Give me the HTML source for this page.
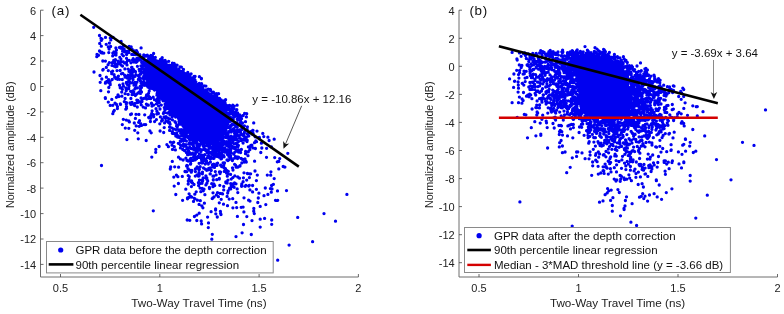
<!DOCTYPE html><html><head><meta charset="utf-8"><style>html,body{margin:0;padding:0;background:#fff;}svg{display:block;will-change:transform;}text{font-family:"Liberation Sans", sans-serif;fill:#222;}.tl{font-size:11px;}.xl{font-size:11.7px;}.yl{font-size:10.7px;}.lg{font-size:11.5px;fill:#111;}.eq{font-size:11.5px;fill:#111;}.pl{font-size:13.4px;letter-spacing:0.7px;fill:#111;}</style></head><body>
<svg width="784" height="314" viewBox="0 0 784 314">
<rect width="784" height="314" fill="#fff"/>
<path d="M40.5 10.2V277.0H358.4" fill="none" stroke="#6e6e6e" stroke-width="1"/>
<path d="M40.5 10.2h3M40.5 35.6h3M40.5 61.0h3M40.5 86.5h3M40.5 111.9h3M40.5 137.3h3M40.5 162.7h3M40.5 188.1h3M40.5 213.6h3M40.5 239.0h3M40.5 264.4h3M60.5 277.0v-3M159.8 277.0v-3M259.1 277.0v-3M358.4 277.0v-3" fill="none" stroke="#444" stroke-width="0.8"/>
<text x="36.2" y="14.6" text-anchor="end" class="tl">6</text>
<text x="36.2" y="40.0" text-anchor="end" class="tl">4</text>
<text x="36.2" y="65.4" text-anchor="end" class="tl">2</text>
<text x="36.2" y="90.9" text-anchor="end" class="tl">0</text>
<text x="36.2" y="116.3" text-anchor="end" class="tl">-2</text>
<text x="36.2" y="141.7" text-anchor="end" class="tl">-4</text>
<text x="36.2" y="167.1" text-anchor="end" class="tl">-6</text>
<text x="36.2" y="192.5" text-anchor="end" class="tl">-8</text>
<text x="36.2" y="218.0" text-anchor="end" class="tl">-10</text>
<text x="36.2" y="243.4" text-anchor="end" class="tl">-12</text>
<text x="36.2" y="268.8" text-anchor="end" class="tl">-14</text>
<text x="60.5" y="292" text-anchor="middle" class="tl">0.5</text>
<text x="159.8" y="292" text-anchor="middle" class="tl">1</text>
<text x="259.1" y="292" text-anchor="middle" class="tl">1.5</text>
<text x="358.4" y="292" text-anchor="middle" class="tl">2</text>
<text x="198.9" y="306.9" text-anchor="middle" class="xl">Two-Way Travel Time (ns)</text>
<text transform="translate(13.8 144.8) rotate(-90)" text-anchor="middle" class="yl">Normalized amplitude (dB)</text>
<path d="M145.0 59.0L146.0 59.0L147.0 59.0L148.0 59.5L149.0 59.5L150.0 59.5L151.0 59.5L152.0 59.5L153.0 59.5L154.0 60.0L155.0 60.0L156.0 60.5L157.0 60.5L158.0 61.0L159.0 61.5L160.0 62.0L161.0 62.0L162.0 62.5L163.0 63.0L164.0 63.5L165.0 63.5L166.0 64.0L167.0 64.5L168.0 65.0L169.0 65.5L170.0 65.5L171.0 66.0L172.0 66.5L173.0 67.0L174.0 67.0L175.0 67.5L176.0 68.0L177.0 68.5L178.0 68.5L179.0 69.5L180.0 70.0L181.0 71.0L182.0 71.5L183.0 72.0L184.0 73.0L185.0 73.5L186.0 74.0L187.0 75.0L188.0 75.5L189.0 76.0L190.0 77.0L191.0 78.0L192.0 78.5L193.0 79.5L194.0 80.5L195.0 81.5L196.0 82.5L197.0 83.5L198.0 84.0L199.0 85.0L200.0 86.0L201.0 87.0L202.0 88.0L203.0 89.0L204.0 90.0L205.0 90.5L206.0 91.5L207.0 92.0L208.0 92.5L209.0 93.0L210.0 94.0L211.0 94.5L212.0 95.0L213.0 95.5L214.0 96.0L215.0 97.0L216.0 97.5L217.0 98.0L218.0 98.5L219.0 99.0L220.0 100.0L221.0 100.5L222.0 101.5L223.0 102.0L224.0 103.0L225.0 103.5L226.0 104.5L227.0 105.5L228.0 106.0L229.0 107.0L229.0 106.0L228.0 109.5L227.0 113.5L226.0 118.5L225.0 124.0L224.0 130.5L223.0 138.0L222.0 139.0L221.0 140.0L220.0 141.0L219.0 141.5L218.0 141.5L217.0 141.5L216.0 142.0L215.0 142.0L214.0 142.5L213.0 142.5L212.0 142.5L211.0 143.0L210.0 143.0L209.0 143.0L208.0 143.5L207.0 143.5L206.0 144.0L205.0 144.0L204.0 143.5L203.0 143.0L202.0 143.0L201.0 142.5L200.0 142.0L199.0 141.5L198.0 141.0L197.0 140.5L196.0 140.0L195.0 139.5L194.0 139.0L193.0 139.0L192.0 138.5L191.0 138.0L190.0 137.5L189.0 135.0L188.0 133.0L187.0 131.5L186.0 130.0L185.0 128.0L184.0 126.5L183.0 125.5L182.0 124.0L181.0 122.5L180.0 121.0L179.0 120.0L178.0 118.5L177.0 117.0L176.0 116.0L175.0 114.5L174.0 113.5L173.0 112.0L172.0 110.5L171.0 109.5L170.0 108.0L169.0 107.0L168.0 105.5L167.0 104.5L166.0 103.0L165.0 101.5L164.0 100.5L163.0 99.5L162.0 98.0L161.0 97.0L160.0 95.5L159.0 94.5L158.0 93.0L157.0 92.0L156.0 91.0L155.0 89.5L154.0 88.5L153.0 87.5L152.0 86.5L151.0 85.5L150.0 84.5L149.0 83.5L148.0 82.5L147.0 81.0L146.0 80.0L145.0 79.0Z" fill="#0000f0"/>
<path d="M97.0 54.3h0M96.8 56.7h0M98.5 55.3h0M99.7 43.4h0M99.5 51.0h0M100.2 82.3h0M101.0 38.4h0M101.3 40.4h0M101.3 46.2h0M101.0 52.7h0M100.8 90.7h0M102.0 39.1h0M101.7 52.1h0M102.2 53.1h0M101.8 79.0h0M102.8 61.0h0M103.2 69.4h0M102.8 70.0h0M103.8 53.1h0M105.4 61.1h0M105.4 83.2h0M105.3 97.6h0M105.5 37.4h0M106.2 44.3h0M106.3 67.4h0M106.4 77.2h0M105.7 82.1h0M106.9 81.3h0M108.3 46.9h0M108.1 64.7h0M108.3 70.6h0M108.3 80.9h0M108.3 82.3h0M108.3 102.1h0M109.4 43.1h0M109.1 49.1h0M108.8 52.6h0M109.3 62.6h0M108.7 79.6h0M108.8 87.5h0M108.5 91.8h0M110.3 38.1h0M110.1 81.6h0M110.1 83.7h0M110.2 84.7h0M110.2 105.4h0M110.8 39.9h0M110.6 46.5h0M112.2 62.7h0M112.0 65.4h0M111.5 71.8h0M111.7 73.7h0M112.2 79.5h0M113.1 37.4h0M112.8 53.1h0M112.7 55.9h0M112.7 71.2h0M113.5 111.6h0M112.8 113.7h0M113.9 51.9h0M114.3 52.7h0M113.7 60.3h0M114.0 66.0h0M114.1 74.7h0M115.3 54.6h0M115.4 59.7h0M114.7 62.5h0M114.6 77.0h0M115.0 103.2h0M115.9 48.0h0M116.1 53.0h0M116.0 55.0h0M115.6 64.2h0M115.7 66.8h0M115.8 78.5h0M116.0 78.0h0M116.4 97.3h0M116.5 104.4h0M116.5 50.1h0M117.5 64.3h0M116.9 66.4h0M117.0 70.6h0M117.4 79.3h0M117.2 78.9h0M118.1 61.2h0M118.3 62.8h0M118.4 76.1h0M117.7 77.5h0M118.0 95.0h0M117.5 106.6h0M119.4 63.5h0M119.5 85.2h0M118.9 96.5h0M119.5 47.5h0M119.8 57.3h0M119.7 61.9h0M120.2 70.5h0M119.6 79.3h0M120.2 87.8h0M120.3 103.8h0M121.1 41.5h0M120.7 47.1h0M121.2 48.3h0M120.9 59.1h0M121.4 61.6h0M121.1 65.0h0M121.4 73.8h0M121.2 87.9h0M120.5 104.4h0M122.0 54.3h0M122.5 66.1h0M122.3 79.5h0M122.4 89.3h0M121.7 92.1h0M121.9 96.2h0M122.3 124.6h0M123.4 46.1h0M123.3 49.2h0M122.6 51.2h0M123.4 55.8h0M123.3 61.8h0M122.7 73.3h0M123.0 83.9h0M123.4 86.2h0M124.2 49.2h0M124.5 51.8h0M124.5 63.0h0M124.3 101.6h0M124.9 68.9h0M124.6 75.2h0M125.1 77.2h0M125.1 93.7h0M125.1 98.5h0M125.3 128.1h0M125.6 51.4h0M126.5 51.4h0M126.4 82.5h0M126.1 87.9h0M126.0 88.5h0M126.2 90.7h0M126.3 103.9h0M126.5 106.7h0M125.8 109.2h0M126.3 120.1h0M126.7 52.8h0M126.6 54.5h0M126.5 58.3h0M127.5 60.2h0M126.5 62.5h0M127.0 64.9h0M126.6 76.4h0M126.9 77.5h0M127.3 78.1h0M126.7 83.6h0M127.4 84.6h0M126.5 102.7h0M126.5 108.3h0M126.9 139.6h0M127.8 52.2h0M128.2 69.1h0M128.0 75.2h0M128.1 75.6h0M128.0 76.9h0M128.2 94.4h0M129.1 46.4h0M128.5 50.8h0M128.9 52.6h0M129.3 60.5h0M129.0 71.4h0M128.7 81.0h0M129.4 81.3h0M129.1 81.8h0M128.9 85.2h0M129.0 86.3h0M128.7 88.7h0M128.8 121.0h0M128.8 128.3h0M129.7 71.4h0M130.4 72.6h0M129.7 77.8h0M129.8 78.6h0M130.0 102.9h0M130.9 47.2h0M131.2 46.9h0M130.9 48.9h0M131.0 62.8h0M131.1 70.5h0M130.6 70.6h0M131.1 74.0h0M130.6 75.4h0M130.7 82.9h0M130.6 91.3h0M131.5 91.8h0M130.9 98.5h0M131.0 104.4h0M130.6 114.5h0M132.2 49.3h0M131.8 54.4h0M132.5 60.1h0M131.6 67.5h0M132.0 67.3h0M132.4 72.5h0M131.9 74.5h0M132.3 82.7h0M132.1 94.7h0M132.0 102.4h0M131.5 102.6h0M131.5 114.0h0M133.2 58.7h0M132.7 75.3h0M132.7 77.9h0M132.9 77.8h0M133.0 79.6h0M132.8 91.0h0M132.7 94.0h0M133.8 54.6h0M133.6 60.8h0M134.0 62.0h0M133.6 69.6h0M133.9 70.9h0M133.6 77.1h0M134.0 85.2h0M133.8 92.1h0M133.5 94.3h0M133.9 104.5h0M134.3 123.0h0M134.6 50.8h0M135.5 71.7h0M135.1 76.3h0M134.9 82.3h0M135.2 88.4h0M134.9 88.9h0M135.4 95.5h0M135.1 103.4h0M134.6 105.6h0M135.4 118.4h0M135.7 54.6h0M135.9 59.7h0M136.1 62.3h0M136.1 75.0h0M135.9 74.6h0M135.7 84.1h0M135.9 84.8h0M136.0 87.8h0M135.8 94.7h0M136.0 114.3h0M136.2 125.9h0M136.5 50.7h0M136.6 50.8h0M137.5 52.3h0M136.8 54.0h0M136.9 58.3h0M137.0 59.9h0M136.6 61.0h0M136.9 61.8h0M137.4 66.3h0M136.9 82.3h0M137.4 87.9h0M136.7 94.1h0M136.8 100.1h0M137.5 101.3h0M137.3 107.0h0M137.6 58.1h0M137.6 59.4h0M138.5 76.1h0M138.4 79.5h0M138.0 93.0h0M137.9 100.3h0M137.7 102.5h0M137.8 132.8h0M138.3 138.8h0M139.0 60.1h0M139.1 69.3h0M138.9 75.4h0M138.9 76.3h0M138.6 79.2h0M139.4 92.0h0M138.9 114.4h0M138.6 122.3h0M139.2 126.3h0M139.8 54.7h0M140.2 58.4h0M139.7 71.2h0M140.0 74.4h0M139.6 77.7h0M140.0 79.0h0M140.5 81.0h0M140.0 80.6h0M140.2 86.3h0M140.5 93.4h0M140.0 102.0h0M139.5 120.7h0M141.1 47.9h0M141.5 59.1h0M140.8 59.8h0M140.9 65.8h0M141.5 66.3h0M140.8 70.4h0M141.3 72.2h0M140.7 74.1h0M141.1 83.2h0M141.2 85.5h0M141.3 85.6h0M141.4 87.7h0M140.5 88.9h0M140.6 90.9h0M141.1 92.4h0M141.1 97.9h0M141.1 97.9h0M140.9 102.3h0M141.2 104.8h0M140.7 123.7h0M142.1 57.3h0M141.7 62.5h0M142.3 67.1h0M141.7 68.4h0M141.6 72.3h0M142.1 83.5h0M141.5 87.4h0M141.5 91.9h0M142.0 99.8h0M142.0 101.6h0M141.5 125.4h0M143.5 56.5h0M142.8 62.3h0M143.2 64.1h0M142.7 63.7h0M143.2 65.8h0M143.1 68.6h0M142.8 78.2h0M142.9 77.7h0M143.5 81.8h0M143.2 107.1h0M143.8 54.8h0M144.3 56.6h0M144.0 60.9h0M144.0 60.7h0M144.0 61.1h0M144.4 60.9h0M143.5 63.4h0M144.1 63.1h0M144.4 65.4h0M143.8 71.4h0M144.0 73.4h0M144.1 73.7h0M143.8 76.2h0M143.7 79.3h0M144.1 81.8h0M144.2 84.7h0M144.1 85.3h0M143.9 98.4h0M144.1 124.6h0M144.9 56.0h0M145.3 62.0h0M145.2 65.9h0M145.4 69.3h0M144.9 76.0h0M145.3 78.0h0M145.0 85.1h0M144.7 114.8h0M145.8 55.6h0M146.3 56.1h0M145.7 64.1h0M146.2 65.1h0M145.7 67.5h0M145.6 68.1h0M145.8 68.5h0M146.4 70.8h0M146.1 75.7h0M146.4 83.3h0M146.1 96.7h0M146.4 104.2h0M145.5 107.9h0M145.7 124.6h0M147.3 55.2h0M147.5 63.2h0M147.1 63.1h0M147.1 69.2h0M147.1 69.9h0M147.5 70.6h0M147.2 76.3h0M147.2 79.4h0M146.8 79.4h0M146.6 85.4h0M146.6 94.9h0M146.7 99.1h0M147.3 105.0h0M147.6 64.5h0M148.5 67.0h0M147.6 67.9h0M147.9 69.9h0M147.9 80.3h0M148.5 80.4h0M147.6 81.4h0M147.5 83.2h0M147.9 82.8h0M147.8 83.2h0M147.8 84.9h0M148.5 86.3h0M147.9 87.1h0M148.5 93.4h0M148.3 105.2h0M148.7 56.3h0M149.3 58.0h0M149.0 58.9h0M148.6 58.6h0M148.6 60.6h0M148.6 61.5h0M149.1 64.5h0M148.7 64.2h0M148.7 68.2h0M148.6 68.5h0M149.2 70.0h0M148.5 70.2h0M148.9 71.1h0M148.5 72.0h0M148.8 81.4h0M149.2 82.6h0M149.2 91.1h0M148.8 96.5h0M149.1 98.4h0M148.7 117.4h0M149.3 117.9h0M149.9 56.7h0M149.9 60.4h0M150.0 61.1h0M149.9 65.9h0M150.2 66.3h0M150.0 66.2h0M149.6 67.2h0M150.4 67.7h0M150.3 70.6h0M150.3 73.9h0M149.6 73.8h0M149.8 80.1h0M150.1 79.9h0M150.2 80.9h0M150.1 80.9h0M149.8 80.9h0M149.6 82.0h0M149.6 84.0h0M150.2 86.6h0M150.4 87.6h0M149.7 88.1h0M149.7 88.6h0M149.7 97.2h0M150.4 121.5h0M149.9 130.9h0M150.9 55.4h0M150.8 56.4h0M151.2 61.1h0M151.2 64.0h0M150.5 64.0h0M150.7 65.0h0M151.1 67.3h0M151.2 68.2h0M151.0 67.8h0M150.7 68.7h0M151.4 69.7h0M150.6 74.3h0M151.3 73.8h0M151.1 85.1h0M151.0 84.9h0M151.1 84.6h0M151.4 86.0h0M151.3 87.2h0M150.8 98.5h0M151.4 103.4h0M151.5 103.2h0M150.8 115.6h0M150.7 118.2h0M151.2 132.8h0M152.4 56.1h0M151.7 58.4h0M152.4 63.9h0M152.5 64.9h0M151.7 64.6h0M151.8 67.7h0M152.4 68.1h0M152.1 68.3h0M152.1 69.6h0M151.5 72.3h0M151.5 73.5h0M152.4 73.7h0M151.7 75.1h0M152.1 78.4h0M152.4 81.2h0M151.9 85.9h0M152.2 86.6h0M152.5 87.2h0M152.3 88.5h0M152.0 106.1h0M152.1 110.8h0M151.7 113.4h0M152.5 63.7h0M152.9 64.5h0M153.2 65.2h0M152.5 68.2h0M153.0 68.3h0M153.0 68.0h0M153.2 67.6h0M153.4 68.9h0M153.1 73.2h0M152.6 74.3h0M152.7 77.2h0M152.8 77.2h0M152.6 78.1h0M153.0 79.4h0M152.6 81.0h0M152.9 82.8h0M153.0 86.6h0M153.2 97.2h0M153.6 53.5h0M153.6 57.9h0M154.5 59.6h0M153.7 60.7h0M154.1 60.5h0M153.8 61.4h0M154.2 64.3h0M153.8 66.3h0M153.7 71.3h0M154.2 72.2h0M154.5 72.1h0M153.9 73.4h0M154.0 73.5h0M154.2 77.3h0M153.7 81.2h0M154.5 88.5h0M154.4 89.8h0M154.5 99.7h0M153.7 105.1h0M153.5 114.7h0M153.7 116.8h0M155.3 57.4h0M154.7 57.6h0M155.0 59.4h0M155.5 60.5h0M154.9 61.3h0M155.2 66.7h0M155.4 70.3h0M155.2 75.5h0M154.7 80.6h0M154.8 86.2h0M155.0 88.9h0M154.5 90.1h0M154.6 121.6h0M155.9 62.5h0M156.2 62.7h0M155.8 65.2h0M155.8 67.2h0M156.1 67.9h0M155.9 67.9h0M155.6 67.6h0M155.9 70.1h0M155.8 72.1h0M155.9 72.4h0M155.7 73.7h0M156.0 76.1h0M155.7 76.8h0M156.2 77.9h0M155.9 78.9h0M155.5 84.3h0M155.7 85.1h0M156.2 84.7h0M155.5 86.3h0M156.2 86.6h0M155.8 89.3h0M156.3 88.6h0M156.4 100.7h0M156.5 103.8h0M156.0 108.7h0M156.4 119.6h0M155.8 149.4h0M155.7 152.3h0M157.1 61.3h0M156.7 63.8h0M157.4 64.2h0M156.7 68.5h0M157.2 71.4h0M157.3 71.1h0M157.2 72.3h0M156.6 72.9h0M157.3 73.9h0M156.8 73.7h0M157.4 74.5h0M157.3 80.3h0M157.2 81.4h0M156.6 82.3h0M157.3 83.1h0M156.5 88.3h0M157.4 87.7h0M157.1 89.7h0M157.1 93.4h0M156.9 95.2h0M157.5 98.8h0M157.5 99.9h0M156.9 111.2h0M156.8 114.1h0M157.9 61.1h0M158.4 63.3h0M158.4 65.6h0M157.7 66.9h0M158.3 67.4h0M157.9 68.6h0M157.7 69.5h0M158.1 72.5h0M157.7 73.0h0M158.3 74.5h0M157.7 79.0h0M158.3 82.0h0M157.9 83.9h0M157.6 85.4h0M158.2 84.9h0M158.3 86.9h0M158.1 90.3h0M157.6 89.7h0M157.5 91.5h0M158.4 92.0h0M157.6 93.7h0M157.8 98.2h0M157.9 101.3h0M158.4 113.5h0M158.7 61.6h0M158.6 61.9h0M158.5 65.3h0M158.8 68.3h0M159.0 69.0h0M159.1 68.7h0M158.7 70.1h0M159.4 70.6h0M159.3 70.8h0M159.4 71.4h0M158.9 74.4h0M158.7 78.2h0M158.6 84.0h0M159.1 87.6h0M158.8 92.4h0M159.1 92.6h0M159.2 94.4h0M159.4 95.9h0M158.5 97.3h0M159.3 97.4h0M158.6 98.1h0M159.1 100.3h0M159.3 102.5h0M158.6 105.9h0M159.1 146.5h0M160.5 59.3h0M160.0 62.1h0M160.0 63.4h0M159.8 63.3h0M160.4 65.9h0M160.0 66.0h0M160.1 68.3h0M160.1 67.7h0M159.7 70.0h0M159.8 71.7h0M159.5 78.0h0M160.0 78.6h0M159.8 81.8h0M159.9 83.1h0M160.0 83.0h0M160.1 84.6h0M159.9 87.9h0M159.5 90.7h0M160.4 92.4h0M159.8 94.0h0M160.0 109.0h0M160.4 116.9h0M159.8 123.8h0M160.1 131.0h0M161.3 65.9h0M161.5 68.4h0M160.7 67.7h0M160.6 74.3h0M161.4 74.4h0M160.5 76.2h0M160.7 78.0h0M160.8 80.9h0M161.3 81.9h0M160.6 82.0h0M160.9 81.5h0M161.2 86.1h0M160.9 88.5h0M161.0 89.7h0M161.0 91.5h0M160.9 91.6h0M161.5 91.9h0M160.7 92.1h0M160.9 94.5h0M161.1 93.7h0M160.9 94.9h0M160.7 97.3h0M161.3 105.1h0M162.2 57.7h0M162.2 59.8h0M161.9 60.8h0M162.0 62.9h0M162.4 65.1h0M161.8 67.5h0M161.7 69.1h0M162.3 70.5h0M161.5 71.2h0M162.4 72.0h0M161.7 72.4h0M161.7 72.6h0M162.5 72.7h0M161.7 75.6h0M162.4 76.2h0M161.5 75.6h0M161.5 76.2h0M161.5 76.5h0M161.7 76.5h0M161.9 79.8h0M162.0 80.3h0M162.3 81.1h0M162.1 80.7h0M161.9 81.5h0M162.2 82.9h0M161.9 83.6h0M161.6 89.2h0M161.5 90.4h0M161.8 90.2h0M161.6 91.1h0M162.4 92.7h0M161.8 98.5h0M161.9 98.9h0M162.2 98.7h0M162.2 119.4h0M162.4 120.2h0M161.6 121.1h0M162.5 61.5h0M162.9 62.1h0M163.5 66.3h0M163.4 67.8h0M162.7 69.5h0M162.5 71.1h0M162.6 72.2h0M163.5 72.0h0M163.0 71.8h0M162.9 75.5h0M163.5 77.4h0M163.2 81.8h0M162.9 81.9h0M162.9 81.9h0M162.8 83.8h0M162.6 86.2h0M163.0 87.3h0M163.3 87.7h0M163.5 89.0h0M163.5 91.1h0M163.5 98.7h0M163.5 98.7h0M163.1 100.8h0M163.4 113.4h0M164.5 62.3h0M163.7 65.4h0M164.2 65.8h0M164.3 67.9h0M163.6 68.0h0M164.4 68.2h0M164.3 69.4h0M163.9 69.5h0M163.9 69.5h0M163.8 70.7h0M164.3 71.3h0M164.2 74.3h0M163.7 75.1h0M163.8 76.4h0M163.6 81.9h0M164.3 83.0h0M164.2 86.2h0M163.9 87.4h0M163.6 87.1h0M163.8 97.0h0M163.5 98.5h0M164.4 99.3h0M164.2 100.1h0M164.3 107.6h0M163.9 112.4h0M164.0 116.9h0M164.2 127.6h0M163.7 132.5h0M165.1 60.5h0M164.7 63.0h0M164.6 65.3h0M164.7 65.4h0M164.7 66.2h0M164.6 67.3h0M165.1 69.0h0M164.8 74.0h0M164.9 76.7h0M165.4 79.4h0M165.3 79.9h0M164.7 82.1h0M164.8 81.9h0M164.8 84.4h0M165.1 84.6h0M165.5 87.6h0M165.3 88.4h0M164.8 89.9h0M164.5 90.0h0M165.0 91.1h0M164.9 92.3h0M165.2 93.5h0M164.6 94.3h0M164.6 95.9h0M164.9 97.1h0M165.1 98.2h0M165.0 99.4h0M165.2 100.7h0M165.1 104.1h0M165.1 104.6h0M164.8 109.7h0M165.0 112.4h0M165.2 118.0h0M164.6 122.9h0M166.2 62.0h0M166.2 64.0h0M165.8 63.8h0M165.7 65.4h0M166.4 65.7h0M166.4 66.8h0M166.0 69.2h0M166.4 69.2h0M165.8 73.0h0M166.5 76.6h0M165.6 77.4h0M165.7 78.8h0M165.9 80.0h0M166.0 80.8h0M165.9 81.8h0M165.9 91.9h0M165.7 93.0h0M166.0 95.1h0M165.5 96.1h0M165.5 95.7h0M165.7 98.2h0M165.9 101.5h0M166.0 102.0h0M166.5 104.3h0M166.0 106.3h0M166.5 107.0h0M166.0 116.6h0M166.0 121.0h0M166.6 64.9h0M167.2 65.8h0M166.8 67.4h0M166.8 66.7h0M167.4 66.5h0M166.9 67.6h0M167.4 68.4h0M166.8 67.8h0M167.0 68.8h0M166.9 68.7h0M167.2 70.3h0M166.6 69.5h0M167.1 72.6h0M167.5 73.8h0M167.1 76.3h0M167.4 76.9h0M166.5 78.9h0M166.8 80.5h0M166.9 86.3h0M167.2 86.6h0M166.5 87.6h0M167.0 88.3h0M167.4 87.8h0M167.1 89.0h0M166.5 89.8h0M166.8 89.6h0M167.0 90.9h0M166.6 92.1h0M166.5 92.9h0M166.9 96.3h0M167.3 101.0h0M167.3 107.0h0M166.6 108.8h0M167.5 113.1h0M166.9 144.6h0M168.3 66.5h0M167.8 68.1h0M167.5 68.1h0M168.4 69.7h0M167.7 73.5h0M167.9 77.2h0M168.0 76.7h0M167.9 80.8h0M167.6 83.2h0M168.3 83.9h0M167.6 87.7h0M167.9 89.3h0M167.6 89.7h0M168.0 93.1h0M168.2 95.9h0M167.5 97.0h0M167.7 98.6h0M167.8 99.2h0M168.2 100.4h0M168.5 99.8h0M168.3 102.3h0M167.7 101.6h0M168.0 104.4h0M168.3 105.6h0M168.4 107.9h0M167.9 118.1h0M167.8 121.6h0M168.5 122.6h0M168.4 146.7h0M168.7 61.3h0M169.1 65.2h0M169.1 66.8h0M168.8 68.1h0M168.9 67.8h0M169.0 70.9h0M168.7 71.9h0M168.9 73.1h0M169.4 75.9h0M168.7 77.6h0M169.5 80.9h0M169.2 82.5h0M169.0 82.9h0M168.8 88.4h0M169.2 87.5h0M169.0 88.7h0M168.7 90.4h0M169.3 89.9h0M168.8 90.7h0M169.5 92.2h0M169.3 92.1h0M168.8 93.7h0M169.3 94.4h0M169.3 93.5h0M169.4 97.1h0M169.3 99.4h0M168.7 99.0h0M168.5 99.0h0M168.9 100.2h0M169.5 99.5h0M168.6 100.0h0M169.1 102.0h0M168.9 106.3h0M168.5 105.6h0M168.8 105.6h0M169.5 109.4h0M169.2 112.1h0M169.0 112.7h0M168.8 118.9h0M169.5 127.1h0M169.8 66.6h0M170.0 67.7h0M170.2 69.4h0M169.8 69.1h0M170.3 69.4h0M169.8 70.7h0M169.6 71.0h0M169.6 74.1h0M169.7 74.4h0M170.3 75.3h0M169.7 74.9h0M169.6 78.8h0M169.8 81.9h0M169.9 84.6h0M170.0 84.9h0M169.5 87.6h0M169.6 87.8h0M169.7 89.1h0M169.6 90.1h0M170.4 90.7h0M170.4 93.4h0M170.4 93.2h0M169.8 94.8h0M169.8 96.2h0M169.5 97.3h0M170.3 97.6h0M170.1 97.6h0M170.1 101.0h0M170.4 101.4h0M170.2 100.5h0M169.9 102.7h0M169.8 103.4h0M169.6 105.1h0M170.2 106.4h0M170.3 109.7h0M169.7 112.2h0M170.0 114.9h0M170.0 118.8h0M169.6 122.3h0M170.1 124.2h0M169.6 130.4h0M170.4 142.1h0M170.3 169.0h0M170.6 66.0h0M170.9 73.6h0M171.4 74.9h0M171.5 75.9h0M170.8 75.6h0M171.1 79.8h0M170.9 80.5h0M170.6 82.1h0M171.4 84.8h0M171.3 89.2h0M170.6 90.5h0M171.1 91.2h0M171.1 91.0h0M170.9 95.3h0M170.7 101.7h0M171.2 101.9h0M171.3 101.5h0M170.6 104.3h0M171.3 103.7h0M170.6 105.1h0M170.9 106.8h0M170.7 107.0h0M170.6 106.5h0M171.1 112.3h0M170.6 112.5h0M170.7 167.0h0M172.4 63.2h0M172.1 65.2h0M172.5 66.2h0M172.1 67.5h0M171.8 67.9h0M171.7 72.6h0M172.1 74.7h0M171.9 75.6h0M172.1 79.1h0M171.9 79.4h0M171.7 79.6h0M171.8 80.2h0M172.4 81.0h0M172.2 84.8h0M171.6 87.0h0M172.2 86.8h0M171.5 94.3h0M171.7 94.6h0M171.9 96.8h0M172.4 99.3h0M171.9 100.5h0M171.8 99.5h0M172.1 103.3h0M172.4 106.9h0M171.5 109.1h0M171.5 109.1h0M172.0 110.2h0M171.5 113.3h0M172.1 112.7h0M172.4 116.6h0M172.4 119.8h0M171.6 127.8h0M172.3 131.7h0M172.3 133.3h0M172.0 145.2h0M172.5 149.4h0M172.3 161.4h0M173.0 66.1h0M173.0 67.1h0M172.5 72.1h0M172.8 73.2h0M173.1 81.5h0M172.6 84.2h0M172.8 84.0h0M172.6 84.9h0M173.3 84.6h0M173.4 85.6h0M173.4 87.5h0M173.1 91.9h0M173.3 93.2h0M172.5 92.8h0M172.8 92.9h0M172.6 96.7h0M173.5 100.3h0M172.8 101.3h0M172.9 101.2h0M173.5 100.7h0M173.4 104.6h0M172.7 105.1h0M173.0 108.2h0M173.0 110.1h0M173.1 111.1h0M173.2 114.4h0M172.9 142.6h0M174.1 63.5h0M174.4 65.9h0M173.8 68.4h0M174.2 69.1h0M173.6 70.7h0M174.3 71.2h0M173.7 73.4h0M173.6 76.0h0M174.1 76.3h0M174.0 80.8h0M173.8 82.4h0M174.0 89.3h0M173.8 90.9h0M173.9 91.0h0M174.3 94.2h0M174.3 94.4h0M174.3 94.3h0M174.3 95.0h0M174.4 95.8h0M174.4 95.6h0M173.6 101.4h0M173.8 101.5h0M174.3 103.0h0M174.2 105.0h0M173.7 105.2h0M173.7 106.5h0M174.2 108.6h0M173.6 109.4h0M174.5 108.5h0M173.7 111.1h0M174.2 113.6h0M173.7 114.8h0M173.5 129.0h0M174.0 133.5h0M173.7 142.2h0M174.3 146.7h0M173.8 177.1h0M174.2 186.1h0M174.9 67.5h0M175.2 79.5h0M175.5 81.3h0M175.3 81.0h0M174.6 81.7h0M175.2 82.6h0M175.2 86.8h0M175.1 86.6h0M174.8 88.9h0M175.0 88.5h0M174.6 91.2h0M174.7 91.1h0M174.5 95.5h0M175.0 95.5h0M175.2 96.6h0M175.2 100.6h0M175.1 103.4h0M175.3 102.6h0M175.4 104.6h0M174.5 104.7h0M174.6 107.4h0M175.4 109.3h0M174.8 109.8h0M174.5 113.6h0M174.8 113.9h0M175.1 113.8h0M175.0 121.7h0M175.4 149.9h0M174.7 166.8h0M176.0 65.2h0M176.1 67.5h0M175.5 68.8h0M176.1 73.5h0M176.1 73.8h0M175.9 75.4h0M176.1 76.4h0M175.8 77.0h0M175.6 77.4h0M176.3 77.6h0M176.0 79.8h0M176.4 81.6h0M176.0 82.3h0M176.0 83.7h0M176.2 88.3h0M175.6 90.8h0M175.8 91.8h0M175.9 96.4h0M176.3 98.0h0M176.3 100.3h0M176.2 100.4h0M176.3 101.4h0M175.8 100.7h0M176.5 101.5h0M176.4 101.3h0M175.5 102.3h0M175.7 102.5h0M176.5 102.9h0M175.7 104.1h0M176.1 104.6h0M176.2 107.3h0M175.5 107.3h0M175.9 109.4h0M175.7 110.9h0M176.4 114.5h0M176.3 116.2h0M175.6 117.1h0M175.5 122.4h0M175.6 122.8h0M175.8 129.6h0M176.0 134.3h0M175.7 134.2h0M175.8 136.0h0M176.4 175.1h0M175.8 194.5h0M177.1 65.1h0M176.6 72.8h0M177.4 72.9h0M177.5 73.5h0M177.3 74.6h0M176.7 75.3h0M177.0 75.7h0M177.4 79.3h0M177.1 80.5h0M177.3 81.3h0M177.2 80.6h0M177.0 81.8h0M176.8 82.8h0M176.8 88.2h0M176.6 88.5h0M177.4 92.6h0M176.6 94.1h0M176.8 93.7h0M176.9 94.9h0M176.6 96.7h0M177.5 96.8h0M177.1 99.3h0M176.8 106.3h0M177.2 106.0h0M176.9 107.2h0M176.6 109.2h0M176.5 109.4h0M177.5 110.2h0M177.2 111.5h0M177.1 112.0h0M177.4 112.4h0M176.9 114.8h0M176.7 125.4h0M176.6 126.2h0M177.3 126.7h0M176.7 133.0h0M177.2 136.3h0M177.4 136.6h0M177.8 70.3h0M178.2 73.3h0M178.0 75.4h0M177.9 76.5h0M177.7 78.0h0M177.9 81.7h0M178.2 83.0h0M178.0 82.9h0M178.1 84.3h0M178.3 84.0h0M177.7 84.7h0M177.6 86.7h0M178.4 90.7h0M178.2 91.7h0M178.0 91.6h0M178.5 93.2h0M178.2 95.6h0M178.0 102.1h0M177.6 103.1h0M178.0 108.7h0M178.1 108.9h0M177.9 110.0h0M178.3 111.1h0M177.7 111.0h0M177.9 125.0h0M177.8 129.3h0M178.0 135.6h0M177.5 137.1h0M178.3 143.3h0M178.5 157.2h0M177.9 176.7h0M178.4 183.5h0M178.9 69.1h0M179.2 70.5h0M178.6 70.2h0M178.6 70.4h0M179.5 70.9h0M179.2 72.0h0M179.0 76.4h0M178.8 79.0h0M178.8 81.3h0M178.6 81.1h0M179.2 80.7h0M179.4 82.4h0M178.8 84.2h0M178.5 89.1h0M179.5 94.0h0M179.5 95.2h0M179.0 96.4h0M178.7 97.1h0M179.2 97.8h0M179.3 100.0h0M179.2 100.9h0M179.4 102.8h0M179.2 103.6h0M179.0 104.7h0M178.9 104.8h0M179.4 111.9h0M179.3 112.4h0M179.5 112.4h0M178.6 115.7h0M178.5 118.4h0M179.1 119.6h0M179.0 121.6h0M179.4 124.1h0M179.2 130.0h0M178.9 130.7h0M178.5 136.2h0M179.2 137.1h0M179.2 137.4h0M179.0 143.3h0M178.6 167.2h0M180.0 67.0h0M179.6 75.1h0M180.2 77.4h0M179.5 77.1h0M179.5 78.0h0M180.1 81.1h0M180.4 86.6h0M180.1 90.6h0M179.9 91.9h0M180.3 92.6h0M180.4 93.9h0M180.4 93.8h0M180.0 94.8h0M179.6 96.2h0M180.2 96.0h0M179.6 101.1h0M180.4 101.0h0M180.2 106.4h0M180.3 107.9h0M180.1 109.0h0M179.9 110.0h0M179.8 113.2h0M179.8 114.2h0M180.3 114.9h0M180.4 115.4h0M180.3 117.7h0M180.5 124.2h0M180.3 140.8h0M180.3 144.8h0M180.4 147.9h0M180.4 158.9h0M181.4 67.1h0M180.5 72.0h0M181.4 72.2h0M180.8 72.6h0M180.5 72.5h0M181.1 75.0h0M181.4 76.3h0M180.8 76.2h0M181.4 81.4h0M181.0 82.3h0M180.8 83.8h0M180.9 84.5h0M181.5 83.7h0M181.1 85.3h0M181.1 84.9h0M180.8 87.2h0M180.9 88.4h0M180.9 96.9h0M180.8 97.4h0M180.8 96.6h0M181.5 99.9h0M180.8 99.9h0M181.2 106.1h0M180.8 108.6h0M180.7 109.9h0M181.1 112.1h0M181.5 112.1h0M181.1 113.3h0M181.4 112.7h0M181.4 113.6h0M180.6 120.2h0M181.3 121.8h0M181.3 124.0h0M181.2 129.6h0M180.8 131.4h0M181.3 131.2h0M180.7 133.2h0M181.4 133.7h0M181.2 141.3h0M180.8 145.3h0M181.6 71.5h0M181.6 72.1h0M182.3 73.6h0M182.0 76.2h0M182.1 80.3h0M182.5 80.6h0M181.8 81.9h0M181.7 85.2h0M181.9 85.0h0M182.3 89.0h0M181.5 88.7h0M182.2 90.7h0M182.3 91.3h0M182.2 91.5h0M182.1 94.8h0M182.0 95.2h0M181.7 98.9h0M182.3 105.5h0M182.3 106.6h0M181.7 107.8h0M182.2 107.7h0M182.2 110.4h0M182.2 115.7h0M182.2 119.9h0M182.4 122.4h0M182.2 123.1h0M182.2 123.4h0M182.3 122.8h0M181.5 130.3h0M181.6 135.6h0M181.8 139.2h0M183.5 69.5h0M183.3 72.9h0M182.5 74.4h0M183.4 78.2h0M183.2 77.9h0M182.6 78.1h0M182.9 78.6h0M183.2 78.7h0M182.6 80.1h0M182.6 80.1h0M182.8 83.6h0M183.3 84.8h0M182.8 86.4h0M183.4 88.9h0M183.1 88.7h0M183.2 89.7h0M183.2 93.1h0M183.1 93.7h0M183.3 94.6h0M183.2 96.4h0M182.9 100.3h0M183.5 100.5h0M182.8 107.4h0M182.9 109.0h0M183.1 108.8h0M182.6 109.5h0M183.3 111.0h0M182.9 110.8h0M182.6 112.7h0M183.5 117.7h0M183.0 118.9h0M183.1 122.0h0M183.0 125.7h0M182.8 129.8h0M183.3 129.9h0M183.3 132.0h0M182.7 132.5h0M183.2 134.7h0M183.2 139.3h0M183.3 146.0h0M182.8 149.5h0M183.1 160.0h0M182.6 200.3h0M183.5 72.4h0M184.3 74.2h0M183.5 74.0h0M184.0 76.0h0M183.9 76.4h0M184.4 76.9h0M184.3 77.1h0M183.7 79.5h0M184.4 79.9h0M184.2 80.1h0M184.5 86.1h0M183.9 86.5h0M183.6 90.3h0M183.5 89.7h0M183.8 91.1h0M184.3 91.0h0M184.4 92.2h0M183.7 93.0h0M183.6 100.4h0M183.5 102.2h0M183.6 103.9h0M183.7 107.2h0M183.9 107.5h0M183.9 111.5h0M183.6 120.9h0M183.8 121.4h0M184.2 122.5h0M184.0 122.9h0M184.4 124.0h0M184.4 125.3h0M183.8 126.9h0M184.0 129.9h0M183.8 134.6h0M183.7 136.2h0M184.0 137.9h0M183.5 140.8h0M183.5 144.2h0M183.6 146.3h0M184.6 73.6h0M185.5 73.9h0M185.1 77.7h0M184.6 81.0h0M184.6 81.9h0M184.8 81.6h0M185.1 83.9h0M184.6 83.8h0M184.6 84.9h0M185.4 87.2h0M185.1 87.3h0M185.0 89.7h0M184.7 89.7h0M185.0 92.0h0M184.8 92.9h0M184.7 93.4h0M184.8 93.5h0M184.8 95.1h0M185.1 96.7h0M185.1 96.6h0M185.1 99.3h0M185.3 100.6h0M184.6 105.5h0M185.2 107.3h0M184.7 108.6h0M184.8 110.2h0M184.5 110.3h0M185.4 115.4h0M184.6 114.5h0M184.6 115.3h0M185.4 116.4h0M184.9 116.5h0M185.1 120.1h0M184.7 121.8h0M184.5 123.2h0M185.4 124.7h0M184.6 128.0h0M184.9 129.5h0M184.8 132.4h0M185.2 134.0h0M185.0 135.7h0M185.4 136.5h0M184.7 139.4h0M184.9 140.4h0M184.6 150.7h0M185.0 171.5h0M186.0 74.9h0M186.1 74.5h0M185.7 78.1h0M185.7 85.8h0M186.0 87.5h0M186.2 86.9h0M185.5 89.7h0M185.6 91.6h0M185.9 96.7h0M186.4 97.5h0M185.6 97.9h0M185.8 98.8h0M185.7 98.8h0M185.6 101.6h0M186.4 104.0h0M186.3 105.2h0M185.7 106.0h0M185.6 106.5h0M186.4 109.0h0M186.1 112.1h0M186.0 112.7h0M186.0 114.3h0M186.3 115.3h0M185.8 115.3h0M185.7 117.4h0M186.3 117.0h0M185.9 119.2h0M185.9 120.1h0M186.2 121.5h0M186.0 126.0h0M185.8 127.1h0M185.6 134.1h0M185.9 135.6h0M186.4 141.1h0M185.9 144.6h0M185.9 146.2h0M186.4 152.6h0M185.9 158.2h0M185.8 189.2h0M186.5 73.7h0M186.9 76.6h0M187.1 81.3h0M186.9 82.0h0M186.9 82.7h0M187.3 82.7h0M187.2 83.4h0M187.4 91.3h0M186.9 90.8h0M187.4 96.2h0M186.5 99.2h0M187.0 98.8h0M187.0 99.7h0M187.2 100.8h0M187.2 103.3h0M187.1 104.3h0M186.7 104.9h0M186.9 108.3h0M186.8 108.4h0M186.9 108.7h0M186.7 112.3h0M186.6 115.0h0M187.3 119.2h0M186.8 119.5h0M186.6 119.5h0M186.7 119.9h0M186.7 120.8h0M187.4 120.5h0M187.0 121.7h0M187.3 121.9h0M187.1 125.1h0M187.0 128.0h0M187.1 128.9h0M186.6 130.2h0M187.4 132.8h0M186.8 135.9h0M187.5 137.3h0M186.8 149.0h0M187.0 160.4h0M186.6 166.1h0M186.9 165.5h0M187.4 165.7h0M186.7 171.7h0M187.2 220.0h0M187.8 72.5h0M187.8 73.0h0M187.8 73.7h0M187.6 75.5h0M188.0 75.7h0M187.6 76.6h0M188.1 77.6h0M188.2 78.6h0M187.7 80.4h0M187.6 82.6h0M188.0 82.5h0M187.6 87.3h0M187.7 88.0h0M187.9 87.6h0M187.6 89.0h0M187.9 90.1h0M188.3 90.4h0M187.6 91.9h0M188.0 92.4h0M188.5 95.4h0M188.3 95.8h0M188.2 96.3h0M187.5 97.3h0M187.7 97.1h0M188.1 99.2h0M188.3 100.0h0M188.0 101.3h0M188.2 100.7h0M188.1 100.9h0M188.1 101.9h0M187.6 106.1h0M188.0 106.0h0M187.7 108.4h0M188.4 108.9h0M188.4 111.0h0M188.1 116.0h0M187.6 115.8h0M187.8 117.4h0M188.0 117.9h0M187.5 119.6h0M188.4 123.9h0M188.0 125.1h0M187.7 125.1h0M187.9 127.4h0M187.6 131.3h0M188.3 136.4h0M188.1 147.9h0M188.1 154.7h0M187.6 154.7h0M188.2 161.0h0M187.9 168.5h0M188.3 180.9h0M188.2 184.0h0M187.5 197.9h0M187.5 198.8h0M189.2 75.9h0M189.1 75.9h0M189.4 77.8h0M189.3 78.9h0M189.0 81.1h0M189.5 80.8h0M189.2 82.2h0M188.6 85.4h0M189.0 87.1h0M189.1 86.9h0M189.2 89.9h0M188.8 91.3h0M188.9 91.2h0M189.4 92.7h0M189.2 97.7h0M189.5 97.6h0M188.9 98.1h0M189.2 100.3h0M189.3 107.4h0M188.9 109.0h0M188.7 110.0h0M189.1 110.2h0M188.8 109.7h0M188.7 110.1h0M188.6 111.2h0M189.0 111.7h0M189.3 113.8h0M189.2 115.3h0M189.3 115.5h0M188.6 116.0h0M188.9 120.4h0M189.3 125.0h0M189.1 126.0h0M188.9 127.0h0M188.6 129.2h0M188.5 130.5h0M189.1 130.1h0M189.3 138.9h0M189.4 144.2h0M189.4 143.7h0M189.1 143.5h0M188.9 144.1h0M189.3 147.9h0M188.6 150.9h0M189.1 152.1h0M189.3 176.6h0M189.0 179.1h0M189.1 193.8h0M189.8 76.8h0M190.3 79.1h0M190.5 79.1h0M189.8 79.7h0M189.7 81.6h0M189.7 87.3h0M190.2 87.2h0M190.0 89.6h0M190.5 91.4h0M189.8 90.7h0M190.2 93.6h0M189.9 97.6h0M189.8 98.8h0M189.6 100.9h0M189.9 110.8h0M190.1 111.9h0M190.4 111.9h0M190.0 115.0h0M190.5 115.2h0M189.6 116.1h0M189.5 120.4h0M190.0 121.3h0M190.1 122.3h0M190.2 122.1h0M189.7 124.2h0M189.8 125.5h0M190.2 129.5h0M190.3 130.7h0M189.7 138.1h0M189.7 140.4h0M189.8 147.3h0M189.5 152.6h0M190.0 153.7h0M189.9 154.2h0M190.2 159.5h0M190.1 159.4h0M190.5 164.2h0M189.6 170.2h0M190.3 196.2h0M189.8 220.3h0M190.6 74.3h0M191.1 73.8h0M191.4 79.5h0M191.5 80.5h0M191.0 81.3h0M191.2 80.5h0M190.9 81.9h0M190.7 82.3h0M190.7 84.4h0M190.7 85.8h0M190.8 88.6h0M191.1 90.5h0M190.5 91.1h0M190.8 94.1h0M191.2 93.9h0M190.7 93.7h0M191.3 94.7h0M191.1 97.2h0M191.3 99.0h0M191.4 99.2h0M190.6 100.0h0M190.9 104.5h0M191.2 111.6h0M190.9 115.1h0M190.9 117.2h0M190.6 117.6h0M191.4 118.2h0M191.2 125.0h0M191.0 125.8h0M191.1 125.9h0M191.1 127.1h0M191.4 128.9h0M190.9 130.0h0M190.9 130.7h0M190.9 130.6h0M190.8 135.4h0M191.3 138.5h0M190.9 143.5h0M191.2 144.2h0M191.4 148.7h0M191.4 154.1h0M190.6 153.9h0M191.2 158.3h0M190.7 158.5h0M190.6 160.9h0M190.6 161.2h0M190.7 163.6h0M191.3 172.2h0M191.2 181.9h0M191.4 186.6h0M191.9 78.0h0M192.5 77.8h0M191.6 78.6h0M192.5 82.8h0M192.3 83.9h0M192.3 87.0h0M192.2 89.3h0M192.1 90.6h0M192.2 91.7h0M192.3 91.6h0M191.6 94.4h0M191.7 97.9h0M192.3 98.5h0M192.3 103.4h0M192.4 105.6h0M192.1 108.0h0M191.9 108.5h0M191.8 110.9h0M192.1 116.3h0M192.0 117.3h0M191.7 119.2h0M192.0 122.0h0M192.4 123.3h0M192.1 128.9h0M191.6 128.9h0M192.1 128.8h0M192.1 130.2h0M192.1 134.0h0M191.9 135.8h0M191.6 138.0h0M192.3 144.3h0M191.9 170.5h0M191.6 180.8h0M192.4 182.9h0M191.8 197.1h0M192.6 81.0h0M192.7 81.2h0M193.2 80.6h0M193.2 85.4h0M192.9 89.5h0M193.0 91.8h0M192.8 91.8h0M192.8 92.6h0M193.4 97.3h0M192.8 96.6h0M193.5 97.9h0M192.8 98.6h0M193.0 99.1h0M193.2 104.3h0M192.7 104.7h0M193.3 106.1h0M193.4 105.9h0M192.7 111.4h0M193.0 111.0h0M193.0 111.6h0M192.8 114.9h0M192.9 120.3h0M193.0 126.9h0M192.7 131.4h0M192.7 131.6h0M193.4 133.2h0M192.5 132.7h0M192.7 135.5h0M193.3 135.2h0M193.4 138.0h0M192.6 140.6h0M192.9 142.7h0M193.0 143.4h0M193.4 146.0h0M192.9 149.0h0M192.5 153.2h0M193.2 153.8h0M193.5 157.3h0M193.0 160.4h0M194.1 76.3h0M193.8 77.3h0M193.7 80.5h0M194.3 81.9h0M193.7 83.2h0M194.2 83.3h0M194.4 84.1h0M194.1 84.2h0M193.8 85.2h0M194.2 85.8h0M193.5 88.6h0M194.0 89.6h0M194.3 95.4h0M194.5 95.0h0M194.1 98.0h0M194.2 103.8h0M194.4 106.5h0M194.3 113.0h0M193.5 114.5h0M194.0 116.0h0M194.4 120.1h0M194.1 121.5h0M194.3 128.4h0M193.7 130.0h0M193.7 130.3h0M194.1 131.2h0M194.4 133.6h0M194.0 135.7h0M193.9 137.2h0M194.5 143.0h0M194.1 149.0h0M193.7 153.8h0M194.5 155.0h0M193.8 156.4h0M194.5 157.2h0M194.0 184.5h0M193.5 201.4h0M195.1 76.3h0M194.6 77.4h0M195.0 80.1h0M195.0 84.7h0M194.6 89.6h0M194.9 90.9h0M194.5 91.9h0M195.5 91.6h0M195.4 91.8h0M195.0 96.4h0M194.7 97.4h0M195.4 97.6h0M194.5 101.1h0M195.4 102.3h0M195.0 106.6h0M195.1 107.1h0M194.9 108.0h0M195.4 110.0h0M194.6 109.8h0M195.0 113.7h0M195.1 117.8h0M195.4 119.2h0M195.5 123.5h0M195.4 126.5h0M195.2 128.6h0M195.2 130.2h0M195.0 130.0h0M195.4 136.5h0M194.7 136.6h0M195.2 139.1h0M194.5 140.9h0M194.6 147.9h0M194.6 150.2h0M195.3 153.3h0M195.3 154.0h0M195.4 157.0h0M194.6 159.4h0M195.1 159.9h0M195.4 159.8h0M195.4 169.0h0M195.4 171.6h0M195.3 176.1h0M194.8 194.2h0M195.0 198.8h0M195.9 82.1h0M195.9 86.1h0M196.2 87.3h0M195.5 87.6h0M195.5 90.7h0M195.6 95.8h0M195.6 96.8h0M196.5 99.1h0M196.0 98.6h0M196.3 98.5h0M196.1 102.4h0M196.0 104.8h0M196.1 106.4h0M195.9 114.4h0M196.0 116.2h0M196.1 115.7h0M196.1 120.0h0M196.3 120.2h0M196.3 123.7h0M195.9 127.1h0M195.8 131.7h0M196.1 134.3h0M195.7 135.6h0M195.5 136.7h0M195.5 138.1h0M196.0 137.8h0M196.3 138.7h0M196.2 138.9h0M196.4 143.1h0M195.7 159.2h0M196.2 191.8h0M196.8 88.0h0M196.7 89.0h0M196.9 88.9h0M196.7 89.9h0M197.4 91.3h0M197.4 95.8h0M197.3 97.5h0M197.4 98.8h0M197.4 105.3h0M197.1 105.5h0M196.9 107.4h0M196.7 109.3h0M196.9 108.6h0M196.6 110.0h0M197.1 111.6h0M197.1 112.2h0M197.2 117.2h0M196.7 119.6h0M196.6 125.9h0M196.8 131.5h0M196.7 135.0h0M197.1 134.6h0M197.1 135.6h0M197.2 139.0h0M197.4 139.2h0M196.6 140.9h0M196.9 142.1h0M197.4 143.6h0M196.9 145.3h0M197.4 146.8h0M197.4 147.1h0M196.8 149.4h0M197.2 151.8h0M196.6 158.7h0M197.1 167.0h0M197.2 168.1h0M197.1 174.9h0M197.4 200.2h0M196.8 215.1h0M196.8 220.5h0M198.2 84.5h0M198.0 85.8h0M197.8 86.9h0M197.9 87.4h0M198.3 91.2h0M197.8 91.9h0M197.9 92.5h0M197.8 100.7h0M198.2 102.0h0M198.5 103.9h0M198.5 105.4h0M198.0 109.3h0M197.8 114.2h0M197.7 113.7h0M197.6 115.1h0M198.5 116.1h0M197.6 116.6h0M198.5 118.1h0M197.6 118.0h0M197.7 118.8h0M198.4 118.7h0M198.0 122.0h0M197.8 123.3h0M198.3 122.6h0M197.7 126.9h0M197.6 126.6h0M198.2 127.1h0M197.5 128.5h0M197.6 132.2h0M197.7 135.0h0M197.7 136.0h0M198.1 135.5h0M197.7 138.5h0M197.8 145.3h0M197.6 145.6h0M198.3 146.6h0M197.7 149.3h0M197.6 148.9h0M198.0 148.6h0M198.1 156.3h0M198.1 156.9h0M198.3 168.2h0M198.5 176.2h0M198.4 182.7h0M199.4 76.7h0M199.3 83.5h0M199.1 86.7h0M198.7 90.4h0M199.2 90.6h0M199.2 92.4h0M199.3 91.9h0M198.6 94.8h0M199.3 96.3h0M198.5 96.1h0M198.8 95.9h0M198.8 95.8h0M198.8 96.5h0M199.3 100.7h0M198.6 100.9h0M198.9 103.8h0M198.7 103.9h0M199.3 106.3h0M198.8 107.2h0M198.7 108.9h0M198.9 111.8h0M198.7 112.5h0M198.6 112.8h0M199.5 115.9h0M199.0 120.1h0M199.2 122.4h0M199.1 121.8h0M198.5 121.9h0M199.0 125.1h0M198.9 125.1h0M198.9 129.6h0M199.1 131.6h0M199.0 133.4h0M199.1 138.5h0M199.3 144.7h0M199.3 148.5h0M198.6 148.6h0M199.1 148.8h0M198.6 150.0h0M199.3 154.1h0M198.9 157.4h0M199.1 163.3h0M199.4 169.2h0M199.0 169.7h0M199.0 172.5h0M199.4 173.4h0M199.3 174.1h0M199.2 175.6h0M199.4 180.1h0M198.6 185.5h0M199.1 204.4h0M199.2 213.2h0M200.1 89.5h0M200.3 90.7h0M200.1 93.4h0M199.7 92.9h0M199.9 93.5h0M200.2 94.3h0M200.2 95.0h0M199.7 95.3h0M200.0 96.3h0M199.9 100.7h0M200.0 101.2h0M199.8 104.4h0M200.2 104.6h0M200.3 106.3h0M200.4 106.1h0M200.2 109.4h0M200.4 109.2h0M200.5 110.3h0M200.4 110.3h0M200.2 115.3h0M199.9 115.4h0M200.0 117.7h0M200.0 118.7h0M200.5 120.3h0M199.9 123.8h0M200.2 123.6h0M200.1 128.3h0M200.4 131.4h0M200.1 133.1h0M199.9 134.0h0M200.5 135.2h0M200.2 135.9h0M200.0 139.8h0M200.3 139.6h0M200.4 140.8h0M199.6 145.5h0M200.2 166.7h0M199.9 183.5h0M200.1 188.1h0M200.3 200.7h0M201.4 78.3h0M201.4 78.8h0M200.7 85.1h0M200.8 86.3h0M200.5 87.4h0M201.3 86.7h0M201.5 88.1h0M201.2 88.9h0M201.1 90.0h0M201.4 90.2h0M201.2 91.2h0M201.0 90.6h0M200.7 94.0h0M200.5 94.1h0M200.9 95.2h0M200.9 97.5h0M201.4 98.1h0M200.9 100.1h0M201.4 101.8h0M201.4 105.0h0M200.8 105.5h0M201.3 106.1h0M201.4 106.9h0M201.0 108.2h0M200.9 108.4h0M200.9 111.3h0M200.5 114.2h0M201.1 114.5h0M201.3 118.4h0M201.1 119.3h0M201.1 120.2h0M201.5 123.7h0M201.1 125.8h0M200.5 128.3h0M201.2 128.1h0M200.5 129.4h0M201.0 130.6h0M201.4 132.0h0M201.4 133.8h0M201.1 142.2h0M201.0 142.7h0M201.0 142.8h0M200.9 149.6h0M201.0 151.4h0M200.8 157.0h0M201.5 159.3h0M201.4 162.6h0M200.8 191.7h0M201.2 221.0h0M201.6 83.7h0M202.3 90.5h0M201.7 93.4h0M202.0 96.8h0M201.6 98.6h0M201.6 103.0h0M202.1 103.3h0M202.1 104.0h0M201.8 104.3h0M202.2 111.1h0M202.2 111.2h0M201.7 112.3h0M201.9 112.6h0M202.1 116.3h0M201.8 117.7h0M201.6 118.7h0M202.1 123.9h0M202.3 124.9h0M201.9 124.8h0M202.0 125.5h0M202.4 128.3h0M201.5 129.4h0M202.1 128.7h0M202.2 128.9h0M202.3 128.7h0M201.9 129.9h0M201.7 134.0h0M201.7 136.1h0M201.6 136.9h0M202.1 140.5h0M201.6 140.7h0M202.2 142.8h0M201.7 142.5h0M202.1 143.7h0M201.5 154.9h0M201.6 155.8h0M201.7 160.3h0M202.0 163.1h0M202.4 173.8h0M201.7 180.1h0M202.5 181.3h0M202.0 183.3h0M202.2 188.5h0M201.9 206.0h0M202.9 88.7h0M203.0 89.7h0M203.1 91.0h0M202.5 92.6h0M203.1 92.8h0M202.9 94.8h0M202.8 94.7h0M203.3 95.1h0M202.7 97.9h0M202.8 98.3h0M203.3 100.4h0M202.8 100.0h0M203.0 101.8h0M202.8 103.2h0M203.0 108.1h0M203.2 110.5h0M202.8 111.6h0M203.4 113.9h0M202.8 114.6h0M203.0 115.3h0M203.2 116.2h0M203.3 117.6h0M203.4 119.6h0M203.0 120.4h0M203.2 123.6h0M202.5 126.1h0M203.0 128.0h0M203.5 128.8h0M202.8 129.3h0M203.2 131.4h0M202.9 134.4h0M202.9 135.3h0M203.4 136.1h0M203.5 137.3h0M203.1 138.8h0M203.1 140.3h0M202.5 139.8h0M202.9 142.3h0M203.0 143.4h0M203.4 144.7h0M203.4 145.5h0M203.1 145.8h0M202.8 156.0h0M203.4 158.8h0M202.9 159.7h0M202.9 162.4h0M202.5 172.1h0M203.2 177.8h0M202.7 180.5h0M203.3 190.8h0M202.9 207.8h0M204.0 85.8h0M203.8 91.8h0M203.8 95.2h0M203.5 96.8h0M203.7 97.5h0M204.4 99.3h0M203.8 99.5h0M204.3 99.0h0M204.4 102.3h0M203.8 102.5h0M203.9 104.3h0M204.3 105.5h0M203.7 109.7h0M204.4 113.6h0M204.2 115.5h0M203.7 119.6h0M203.6 122.4h0M203.5 122.6h0M203.7 122.6h0M203.8 126.5h0M203.9 125.7h0M204.1 127.8h0M203.7 129.3h0M204.5 130.4h0M204.2 131.5h0M203.7 133.9h0M203.9 136.7h0M203.8 137.2h0M204.4 138.5h0M203.8 139.0h0M204.0 140.1h0M203.5 139.9h0M203.7 143.2h0M204.0 147.4h0M203.5 149.4h0M204.3 149.5h0M203.8 155.5h0M203.5 157.1h0M203.8 158.6h0M203.8 160.6h0M203.5 168.0h0M204.0 189.2h0M204.4 203.2h0M205.0 91.0h0M204.7 94.8h0M205.2 96.9h0M205.3 97.4h0M204.7 98.8h0M205.2 98.5h0M205.0 100.2h0M205.1 99.8h0M205.3 103.4h0M204.7 105.0h0M205.2 105.7h0M205.2 107.5h0M205.2 109.2h0M205.4 111.6h0M204.6 113.6h0M205.2 116.1h0M205.3 116.5h0M205.0 117.3h0M205.2 116.5h0M205.3 118.9h0M205.4 119.4h0M204.7 119.5h0M204.5 121.2h0M205.5 124.2h0M204.8 125.3h0M205.4 125.7h0M204.8 126.9h0M205.1 128.8h0M205.4 128.7h0M205.4 129.3h0M205.1 134.5h0M205.1 134.7h0M205.0 135.8h0M204.6 136.6h0M204.9 137.1h0M205.2 138.0h0M205.5 141.5h0M205.2 141.6h0M205.5 149.3h0M204.9 149.1h0M205.4 150.2h0M204.7 154.7h0M205.2 164.1h0M205.5 169.2h0M204.9 194.7h0M205.9 86.1h0M206.0 89.8h0M206.0 93.0h0M206.4 100.1h0M206.2 102.9h0M205.7 107.4h0M206.3 112.0h0M206.5 112.9h0M205.9 113.1h0M206.4 117.1h0M205.7 124.6h0M205.8 128.8h0M205.7 129.7h0M205.5 132.0h0M206.3 133.1h0M205.8 135.1h0M206.2 137.0h0M205.8 136.9h0M205.7 137.7h0M206.2 139.1h0M205.8 138.7h0M205.6 142.0h0M206.0 142.1h0M206.4 141.8h0M206.0 145.7h0M206.4 150.9h0M205.8 159.1h0M206.1 161.1h0M205.9 175.8h0M206.1 178.2h0M205.9 184.9h0M206.6 90.5h0M207.3 93.0h0M207.0 94.0h0M207.2 94.4h0M206.7 95.4h0M207.2 97.0h0M206.7 97.1h0M207.0 98.2h0M206.8 99.6h0M206.6 100.3h0M207.2 102.4h0M207.3 102.7h0M206.7 108.7h0M207.4 116.0h0M206.8 116.4h0M207.3 117.5h0M206.7 118.5h0M207.2 121.2h0M207.3 122.1h0M206.8 122.0h0M207.4 122.9h0M207.3 124.2h0M206.7 124.4h0M207.3 127.0h0M206.6 128.2h0M206.8 130.5h0M207.4 131.4h0M206.7 130.8h0M207.3 132.9h0M207.2 136.8h0M207.0 138.9h0M206.9 140.1h0M206.9 143.8h0M207.2 143.7h0M207.1 152.4h0M206.6 161.1h0M206.8 162.3h0M206.7 170.3h0M206.8 177.8h0M207.0 179.4h0M206.9 183.2h0M208.2 89.2h0M207.7 92.7h0M208.5 95.6h0M208.0 95.6h0M207.6 96.1h0M208.0 101.5h0M207.9 101.2h0M208.3 101.0h0M208.2 101.5h0M208.1 102.6h0M208.5 103.9h0M208.4 103.9h0M207.5 104.6h0M208.1 106.9h0M207.7 110.3h0M208.2 109.9h0M207.6 113.1h0M208.4 114.9h0M207.8 114.7h0M208.5 118.5h0M207.6 118.9h0M208.5 121.6h0M208.3 124.1h0M208.1 124.6h0M208.0 126.5h0M207.9 127.4h0M208.5 128.4h0M207.6 129.4h0M208.4 128.6h0M207.9 129.7h0M208.4 129.9h0M208.1 133.8h0M207.7 134.5h0M207.9 137.7h0M208.2 138.1h0M207.8 139.3h0M207.7 139.6h0M208.4 141.1h0M208.3 141.4h0M208.2 145.8h0M207.8 150.2h0M208.2 150.0h0M207.8 152.1h0M208.5 151.5h0M207.8 155.6h0M207.5 157.6h0M208.1 163.4h0M208.3 164.1h0M208.2 169.8h0M207.7 181.0h0M207.6 217.1h0M208.3 227.6h0M208.9 93.6h0M208.9 95.3h0M209.2 97.2h0M209.0 97.1h0M209.0 102.5h0M209.3 104.4h0M209.0 104.1h0M208.6 105.7h0M209.1 107.2h0M209.0 107.8h0M208.9 110.5h0M209.5 110.4h0M209.0 110.1h0M209.0 112.1h0M209.1 111.6h0M209.1 112.6h0M208.7 115.4h0M209.1 116.0h0M209.4 118.1h0M209.0 120.2h0M209.1 122.5h0M208.9 123.1h0M209.2 122.8h0M209.1 126.1h0M208.9 127.5h0M208.9 129.0h0M208.9 133.5h0M209.2 136.7h0M208.9 142.4h0M209.4 143.7h0M208.6 146.4h0M209.1 148.4h0M209.2 153.3h0M208.6 156.4h0M208.5 157.6h0M208.7 168.3h0M209.4 187.5h0M209.5 188.6h0M208.5 222.9h0M210.1 89.4h0M210.1 90.2h0M210.5 89.7h0M210.2 95.8h0M210.0 96.8h0M210.4 98.7h0M209.6 101.3h0M209.6 102.5h0M210.3 105.5h0M210.3 109.9h0M210.0 114.2h0M210.0 118.1h0M210.5 119.9h0M210.2 122.0h0M210.5 123.0h0M210.1 122.7h0M209.9 125.7h0M210.3 126.7h0M210.4 131.1h0M209.9 131.9h0M210.1 136.2h0M209.9 139.6h0M209.9 139.7h0M209.6 141.3h0M210.0 144.7h0M209.6 146.0h0M209.6 156.6h0M210.5 158.2h0M210.4 158.9h0M210.4 162.1h0M210.3 168.0h0M210.1 173.9h0M210.3 173.9h0M210.7 90.6h0M211.1 97.3h0M211.1 100.1h0M210.6 103.1h0M211.0 105.5h0M211.0 108.0h0M211.3 110.2h0M211.2 113.6h0M210.5 114.8h0M211.3 116.1h0M210.7 116.6h0M210.8 117.9h0M210.6 120.8h0M211.2 124.3h0M211.2 126.3h0M211.0 126.5h0M210.6 127.5h0M211.3 130.3h0M211.4 133.0h0M211.4 133.0h0M210.7 133.0h0M211.1 134.3h0M211.5 138.3h0M211.5 148.2h0M210.6 152.4h0M211.5 153.5h0M210.5 157.0h0M211.3 170.3h0M211.1 170.5h0M211.1 211.7h0M211.9 93.4h0M212.4 96.8h0M212.0 100.0h0M212.3 103.5h0M211.9 109.7h0M211.5 111.7h0M212.0 114.4h0M212.5 114.6h0M211.7 115.8h0M211.6 117.4h0M211.5 118.9h0M212.1 121.5h0M212.3 124.2h0M212.1 127.3h0M211.6 134.7h0M212.3 136.2h0M211.5 138.8h0M211.8 139.4h0M211.6 140.6h0M211.6 142.7h0M212.0 142.9h0M211.6 142.7h0M212.3 147.2h0M212.5 154.4h0M212.3 164.8h0M211.7 183.7h0M212.2 198.6h0M211.8 239.2h0M213.4 92.1h0M212.7 96.5h0M213.2 100.7h0M212.9 104.4h0M212.7 103.6h0M212.7 106.0h0M212.8 110.1h0M212.8 109.6h0M213.2 113.8h0M213.0 117.2h0M213.0 117.1h0M212.9 123.0h0M213.1 129.1h0M212.8 131.4h0M212.6 133.0h0M213.1 133.8h0M213.5 135.2h0M212.8 134.8h0M213.5 138.7h0M212.7 139.5h0M213.0 139.9h0M213.2 139.6h0M213.2 140.4h0M213.2 143.0h0M213.3 145.3h0M213.1 144.5h0M212.7 148.0h0M212.8 150.6h0M213.0 150.7h0M213.1 152.8h0M213.0 153.6h0M212.6 155.1h0M213.1 158.3h0M212.7 166.9h0M213.0 176.2h0M213.3 180.1h0M213.3 179.6h0M212.9 186.7h0M213.0 192.8h0M212.8 198.0h0M214.5 96.2h0M213.8 96.3h0M213.6 97.9h0M214.4 99.2h0M213.8 102.0h0M213.5 102.8h0M213.5 104.1h0M214.0 104.6h0M214.4 108.3h0M213.7 109.5h0M214.3 114.8h0M214.4 116.0h0M213.7 117.6h0M213.5 117.7h0M214.2 117.8h0M213.7 123.1h0M214.0 124.4h0M213.5 124.8h0M213.7 124.6h0M214.5 127.0h0M213.6 128.0h0M213.7 132.1h0M214.0 132.4h0M214.1 136.0h0M213.6 137.3h0M213.6 136.8h0M214.0 138.3h0M214.2 142.2h0M213.9 144.8h0M214.3 147.7h0M213.6 150.3h0M214.0 150.9h0M214.4 152.2h0M213.6 152.6h0M213.8 153.9h0M214.2 155.2h0M214.0 158.3h0M214.1 157.5h0M213.7 164.2h0M214.5 167.4h0M213.7 176.2h0M213.7 183.9h0M213.9 184.2h0M214.0 196.9h0M214.7 93.7h0M214.8 101.0h0M214.7 101.4h0M215.2 104.5h0M215.4 106.6h0M214.7 107.4h0M214.8 108.1h0M215.4 112.1h0M214.8 114.2h0M214.9 120.1h0M215.1 120.9h0M215.5 124.4h0M215.0 124.9h0M214.9 128.3h0M214.8 130.9h0M215.0 131.6h0M215.0 135.0h0M215.2 135.4h0M214.9 139.3h0M215.5 141.1h0M214.9 143.3h0M215.2 145.6h0M214.9 146.9h0M214.8 151.3h0M215.3 152.6h0M215.3 154.1h0M215.5 154.6h0M215.3 165.6h0M215.3 171.6h0M214.7 185.6h0M216.3 98.1h0M216.1 101.6h0M216.2 105.4h0M215.8 104.9h0M216.0 108.9h0M216.2 109.8h0M216.2 110.9h0M215.8 113.3h0M215.6 113.2h0M216.1 120.5h0M216.3 123.3h0M216.5 123.7h0M215.6 127.2h0M215.9 128.0h0M216.5 131.0h0M215.8 130.9h0M216.2 131.9h0M215.7 133.0h0M215.6 133.6h0M215.8 138.5h0M215.6 140.3h0M216.5 144.5h0M215.9 145.5h0M215.6 149.3h0M216.1 174.9h0M216.4 194.9h0M215.6 209.0h0M215.6 210.0h0M215.8 213.8h0M216.7 93.6h0M216.8 96.2h0M217.1 98.7h0M217.3 102.7h0M216.5 103.2h0M217.5 103.5h0M217.2 108.6h0M217.0 109.4h0M217.1 109.4h0M217.1 110.2h0M217.2 113.2h0M216.6 114.4h0M216.7 113.8h0M217.4 114.2h0M217.5 115.4h0M217.3 117.0h0M216.9 121.8h0M217.2 124.7h0M216.6 124.9h0M216.5 125.7h0M216.6 127.3h0M217.1 131.2h0M216.9 134.3h0M216.6 133.6h0M216.6 136.4h0M216.6 138.5h0M216.6 138.4h0M217.1 140.1h0M217.2 141.5h0M216.9 148.1h0M217.1 150.5h0M216.5 149.6h0M217.1 154.0h0M217.0 156.4h0M216.8 163.6h0M217.0 165.4h0M216.7 179.7h0M217.5 192.6h0M217.3 217.0h0M218.2 98.4h0M218.4 100.0h0M218.3 102.1h0M217.6 106.3h0M217.9 106.1h0M217.6 109.5h0M218.2 115.9h0M218.2 116.7h0M217.6 118.5h0M217.9 119.1h0M218.3 118.7h0M218.0 119.8h0M217.6 119.6h0M217.8 126.2h0M217.8 128.0h0M217.6 131.7h0M218.0 132.1h0M218.4 137.2h0M217.8 143.5h0M217.6 142.7h0M217.8 144.3h0M217.9 147.7h0M217.5 149.8h0M217.6 163.2h0M218.4 196.7h0M218.6 93.7h0M219.3 99.0h0M219.3 99.5h0M218.9 100.8h0M219.3 102.8h0M219.5 102.9h0M219.4 109.1h0M218.9 110.2h0M219.1 112.9h0M219.0 116.0h0M218.6 122.3h0M219.2 121.7h0M218.9 124.4h0M218.5 125.5h0M219.1 125.6h0M219.3 127.1h0M219.2 134.0h0M218.6 144.4h0M218.6 145.1h0M219.0 145.4h0M218.8 146.1h0M219.1 151.7h0M219.4 154.3h0M218.5 154.5h0M219.1 157.2h0M218.7 156.5h0M219.4 171.9h0M219.3 178.4h0M219.3 179.0h0M219.3 202.8h0M219.6 98.3h0M219.8 99.0h0M220.0 101.5h0M220.4 102.1h0M219.7 103.0h0M220.3 106.1h0M220.3 107.3h0M220.4 107.0h0M220.3 106.7h0M220.4 109.1h0M220.0 112.7h0M220.3 115.7h0M220.1 116.1h0M219.6 116.6h0M220.4 117.7h0M220.0 117.9h0M219.7 118.2h0M220.2 119.0h0M220.5 120.8h0M220.3 122.8h0M220.3 124.2h0M219.8 129.3h0M220.0 130.2h0M220.3 132.0h0M219.7 136.4h0M220.2 136.2h0M219.5 140.2h0M219.8 140.1h0M219.7 143.3h0M220.2 145.5h0M220.0 148.8h0M220.2 150.3h0M220.2 171.8h0M220.0 173.6h0M219.8 185.3h0M220.0 193.4h0M220.4 211.3h0M221.1 99.8h0M220.9 101.3h0M220.9 101.7h0M220.8 103.4h0M220.7 103.7h0M221.0 104.8h0M221.0 105.9h0M221.0 109.8h0M221.1 111.2h0M220.9 112.7h0M221.2 122.2h0M221.2 126.5h0M220.8 126.8h0M220.9 130.0h0M221.1 132.6h0M221.2 134.8h0M220.7 134.8h0M220.9 138.4h0M221.0 138.0h0M220.9 138.7h0M221.0 143.7h0M221.5 147.0h0M221.1 146.9h0M220.7 147.5h0M220.6 148.4h0M221.5 148.7h0M221.2 149.7h0M221.0 158.9h0M220.6 165.2h0M220.6 172.1h0M221.2 199.3h0M220.6 213.3h0M221.0 214.5h0M221.7 102.9h0M222.1 102.9h0M222.5 103.9h0M222.2 103.5h0M221.6 105.5h0M221.9 108.7h0M222.5 108.9h0M222.4 116.5h0M222.3 120.5h0M221.8 124.1h0M221.9 124.2h0M221.8 125.0h0M222.1 125.2h0M221.6 125.8h0M221.8 128.8h0M222.4 130.4h0M221.6 135.1h0M221.8 140.1h0M221.8 141.8h0M221.8 141.6h0M222.2 145.7h0M221.7 153.2h0M221.6 156.2h0M221.8 157.3h0M221.6 158.5h0M221.6 166.6h0M221.8 193.7h0M222.9 105.2h0M223.1 109.2h0M223.1 110.0h0M222.8 112.7h0M222.8 115.2h0M223.3 114.9h0M222.6 115.5h0M223.4 116.8h0M223.4 118.3h0M223.1 118.2h0M223.2 122.1h0M223.4 130.3h0M222.8 131.2h0M223.2 132.9h0M223.4 133.5h0M222.8 136.7h0M222.9 138.0h0M222.8 138.3h0M222.9 141.5h0M222.7 142.5h0M223.0 142.8h0M223.4 144.2h0M222.6 145.1h0M223.4 148.4h0M223.4 150.2h0M222.5 151.8h0M222.7 155.7h0M223.1 156.7h0M223.1 162.9h0M222.6 193.9h0M223.5 204.2h0M223.7 100.8h0M224.2 102.8h0M224.2 104.1h0M223.7 104.6h0M223.9 110.0h0M223.8 115.0h0M223.5 122.4h0M224.4 125.0h0M223.7 125.1h0M224.2 128.2h0M223.9 129.7h0M223.7 134.2h0M223.7 140.8h0M224.4 142.4h0M224.5 148.1h0M223.6 151.3h0M224.2 151.4h0M224.4 150.5h0M223.7 155.7h0M224.1 156.8h0M224.1 163.8h0M223.7 165.8h0M223.8 167.5h0M224.3 171.4h0M223.7 186.4h0M223.7 189.9h0M224.7 101.8h0M225.0 102.4h0M224.9 103.3h0M224.5 103.1h0M225.1 109.1h0M224.8 110.1h0M225.4 115.2h0M224.7 114.8h0M225.2 119.4h0M224.9 119.2h0M224.9 120.4h0M225.2 120.7h0M225.1 124.2h0M224.9 124.5h0M225.0 127.7h0M225.1 131.4h0M225.2 132.4h0M224.9 133.4h0M225.1 137.2h0M224.6 144.1h0M225.1 144.1h0M224.7 147.9h0M225.0 152.2h0M224.5 162.8h0M224.9 170.5h0M225.6 99.7h0M225.7 104.7h0M225.8 106.9h0M225.6 111.8h0M226.4 113.0h0M226.3 120.5h0M225.7 121.0h0M226.2 125.6h0M225.9 128.6h0M225.9 130.0h0M225.8 132.7h0M226.4 137.4h0M226.0 137.6h0M226.3 141.6h0M225.8 149.6h0M226.2 151.2h0M225.5 168.7h0M225.8 181.9h0M225.9 182.8h0M227.0 105.6h0M226.9 106.6h0M227.0 113.9h0M227.0 115.7h0M226.8 117.8h0M227.1 118.5h0M227.0 120.1h0M226.9 121.0h0M226.9 121.6h0M227.3 123.0h0M227.5 123.9h0M226.9 123.9h0M227.5 123.9h0M227.4 124.9h0M227.2 127.4h0M227.0 134.4h0M226.7 134.9h0M227.4 143.0h0M226.9 145.7h0M227.4 149.8h0M227.4 154.4h0M227.0 159.9h0M227.1 170.7h0M226.5 173.1h0M227.3 176.2h0M227.2 183.1h0M227.1 196.4h0M227.5 205.7h0M227.8 106.1h0M228.0 105.7h0M228.0 108.5h0M228.3 108.4h0M228.0 109.6h0M227.7 113.4h0M227.8 115.2h0M228.0 115.8h0M228.1 118.0h0M227.8 118.5h0M227.8 120.7h0M227.7 123.2h0M227.6 127.1h0M228.1 133.8h0M227.6 136.3h0M227.9 138.1h0M228.0 150.3h0M228.0 152.7h0M227.9 159.8h0M227.9 160.5h0M228.3 171.4h0M227.9 173.9h0M227.9 180.2h0M228.1 191.0h0M227.7 193.1h0M228.7 106.3h0M229.2 113.9h0M229.2 116.9h0M228.8 118.2h0M228.6 121.5h0M228.7 131.7h0M228.5 136.4h0M229.4 139.4h0M229.0 140.0h0M228.8 144.4h0M229.5 146.0h0M228.8 146.9h0M229.2 154.1h0M228.9 156.4h0M229.1 159.7h0M229.2 199.1h0M229.6 105.4h0M229.9 108.8h0M230.5 109.7h0M230.2 110.5h0M230.0 111.1h0M230.3 116.9h0M229.7 121.6h0M230.3 126.7h0M229.8 128.1h0M230.2 137.5h0M230.3 140.8h0M230.2 141.2h0M229.9 141.5h0M229.8 142.5h0M230.4 143.9h0M230.1 149.4h0M230.3 155.1h0M229.6 188.2h0M230.8 108.6h0M231.4 112.6h0M230.5 113.4h0M230.7 120.8h0M230.6 125.3h0M230.9 126.3h0M231.2 125.8h0M231.1 125.6h0M230.8 129.4h0M230.7 129.9h0M231.2 132.1h0M231.1 136.1h0M231.1 137.9h0M230.9 138.7h0M230.6 140.3h0M231.0 149.1h0M230.6 151.1h0M231.3 152.8h0M230.5 155.8h0M230.7 157.4h0M231.4 158.3h0M230.6 174.4h0M231.2 179.1h0M230.7 183.6h0M231.3 185.4h0M230.7 188.9h0M231.9 106.4h0M232.5 109.1h0M231.8 110.2h0M232.1 110.9h0M231.6 118.5h0M232.3 123.9h0M231.8 131.3h0M232.1 137.5h0M231.8 138.5h0M231.7 146.4h0M231.8 146.5h0M232.4 147.6h0M232.4 160.5h0M232.0 183.9h0M231.8 186.5h0M232.8 105.1h0M233.0 107.4h0M232.5 110.7h0M233.1 112.0h0M233.0 113.7h0M233.4 114.7h0M233.2 114.7h0M233.3 117.6h0M232.7 117.9h0M233.0 117.7h0M233.3 119.0h0M233.3 124.1h0M233.0 129.1h0M232.6 137.9h0M233.4 140.3h0M233.0 142.6h0M232.6 146.8h0M232.5 167.8h0M233.0 170.0h0M232.9 177.6h0M233.2 184.8h0M232.7 198.7h0M232.9 207.8h0M234.1 106.2h0M233.9 108.6h0M234.2 115.3h0M234.3 124.5h0M233.9 124.7h0M233.8 128.6h0M233.6 130.2h0M233.6 136.8h0M234.5 137.0h0M233.8 143.8h0M234.2 147.5h0M234.3 148.4h0M233.8 154.2h0M234.5 183.0h0M234.2 187.3h0M235.2 111.8h0M234.5 114.7h0M235.2 115.5h0M235.0 116.4h0M235.2 123.2h0M235.5 124.4h0M234.7 130.7h0M234.6 131.9h0M234.6 133.5h0M234.8 135.4h0M235.1 134.5h0M235.3 136.6h0M234.9 147.3h0M234.7 152.3h0M234.6 158.2h0M234.6 164.3h0M234.8 175.9h0M235.5 111.6h0M236.1 111.5h0M236.2 124.4h0M236.5 124.5h0M235.7 126.5h0M236.2 132.7h0M236.5 136.3h0M236.0 136.7h0M235.5 138.9h0M236.1 139.8h0M236.5 143.4h0M235.7 143.7h0M235.7 149.6h0M235.6 156.6h0M235.5 165.2h0M236.2 167.2h0M236.0 183.8h0M236.0 202.4h0M237.1 105.2h0M236.8 109.7h0M236.6 114.4h0M236.8 114.4h0M237.4 119.5h0M237.2 119.1h0M236.6 122.8h0M237.3 126.9h0M237.1 129.8h0M237.1 132.5h0M237.0 134.8h0M237.0 135.8h0M236.7 139.4h0M237.2 143.1h0M237.4 146.0h0M237.1 146.7h0M236.8 151.0h0M237.1 156.8h0M237.5 158.6h0M237.2 188.9h0M236.7 207.6h0M237.4 216.4h0M237.6 112.9h0M238.0 116.0h0M237.6 116.5h0M238.0 120.0h0M237.8 131.0h0M237.8 130.9h0M237.6 135.2h0M238.4 135.8h0M238.4 145.5h0M237.8 146.9h0M238.5 149.9h0M238.5 152.1h0M237.6 157.5h0M237.7 167.2h0M238.0 167.0h0M237.8 177.0h0M237.8 192.6h0M238.9 117.2h0M239.4 129.8h0M239.1 131.9h0M239.0 136.2h0M239.4 138.1h0M238.7 141.3h0M239.0 151.0h0M238.5 157.2h0M239.5 178.2h0M239.7 115.0h0M240.2 115.6h0M239.9 119.2h0M240.3 119.6h0M239.9 123.2h0M240.5 132.2h0M240.1 151.3h0M240.0 166.0h0M240.0 165.7h0M241.2 116.2h0M240.5 120.8h0M241.3 125.5h0M240.5 135.0h0M240.5 138.6h0M241.4 140.5h0M241.4 149.5h0M240.6 152.5h0M241.1 158.4h0M241.2 207.3h0M241.5 118.7h0M242.0 128.4h0M241.9 129.5h0M242.0 134.7h0M241.8 162.9h0M241.8 184.0h0M241.6 185.3h0M242.0 186.1h0M241.6 186.3h0M243.2 115.5h0M242.5 123.0h0M243.4 127.2h0M243.3 139.3h0M243.1 143.1h0M242.6 159.5h0M243.4 177.8h0M243.1 181.7h0M243.1 207.1h0M244.4 125.8h0M243.9 126.5h0M244.3 132.5h0M243.8 134.1h0M244.2 133.5h0M243.6 136.1h0M244.4 162.1h0M244.0 172.8h0M244.0 197.8h0M243.9 211.9h0M243.5 224.5h0M244.6 113.3h0M245.5 121.7h0M245.0 131.1h0M244.8 137.4h0M245.1 137.0h0M245.2 139.0h0M244.6 140.2h0M245.5 153.7h0M245.0 158.9h0M245.2 186.3h0M246.4 116.9h0M246.1 138.0h0M245.6 151.4h0M245.8 161.1h0M246.3 162.1h0M245.9 185.3h0M246.7 113.7h0M247.4 126.8h0M247.2 129.3h0M247.4 133.7h0M247.2 140.2h0M247.0 141.5h0M247.5 151.9h0M247.4 173.5h0M246.7 180.1h0M246.8 216.6h0M247.9 133.9h0M248.3 135.5h0M247.9 134.7h0M248.0 136.2h0M248.4 146.9h0M248.3 151.8h0M248.0 155.7h0M248.8 135.9h0M249.4 177.6h0M249.3 185.3h0M248.7 186.0h0M248.6 200.2h0M249.8 132.1h0M249.9 147.3h0M249.8 149.7h0M249.5 173.8h0M249.9 189.9h0M250.0 201.1h0M250.7 131.7h0M251.1 132.9h0M250.8 145.5h0M250.6 173.8h0M252.3 134.1h0M251.9 145.1h0M252.0 220.6h0M252.7 130.5h0M253.0 130.4h0M253.2 134.0h0M253.1 133.5h0M253.0 147.9h0M253.7 122.9h0M253.7 211.2h0M255.2 136.8h0M254.5 142.7h0M255.4 148.5h0M254.6 161.2h0M255.0 171.0h0M255.8 140.9h0M256.5 141.7h0M256.4 180.6h0M257.0 131.1h0M257.3 175.1h0M258.3 198.0h0M257.8 202.5h0M259.4 137.4h0M259.2 137.7h0M258.7 137.6h0M261.4 143.2h0M260.8 152.5h0M261.8 148.0h0M263.8 136.6h0M264.6 218.4h0M266.5 157.3h0M266.6 148.3h0M267.3 175.1h0M271.4 146.9h0M270.9 171.8h0M270.7 175.2h0M271.6 185.5h0M273.4 184.3h0M277.3 161.8h0M277.5 190.9h0M279.7 158.6h0M287.8 153.3h0M93.7 27.3h0M99.5 35.5h0M94.0 72.0h0M100.0 75.5h0M101.5 165.5h0M105.4 98.4h0M111.8 99.4h0M112.8 105.3h0M114.3 110.4h0M117.4 108.6h0M123.3 119.3h0M129.4 121.9h0M134.7 130.3h0M146.2 140.5h0M151.8 157.1h0M153.3 210.8h0M182.3 176.4h0M188.2 175.6h0M189.0 197.3h0M212.3 234.3h0M236.0 236.6h0M242.1 232.8h0M251.3 234.3h0M194.4 216.5h0M201.6 223.9h0M189.3 197.3h0M194.4 198.4h0M278.8 168.9h0M284.9 167.1h0M274.2 178.6h0M286.5 190.6h0M346.9 194.4h0M297.7 217.4h0M324.0 213.6h0M335.5 221.2h0M271.7 220.0h0M271.7 224.3h0M260.2 219.2h0M260.2 227.1h0M251.3 234.5h0M275.5 200.3h0M277.7 200.3h0M265.8 204.6h0M260.2 206.4h0M253.8 208.5h0M254.3 213.6h0M265.3 188.0h0M270.4 188.6h0M264.0 195.7h0M267.9 194.4h0M258.9 193.2h0M252.6 191.9h0M252.6 185.5h0M256.4 189.3h0M278.6 161.3h0M289.1 245.1h0M312.6 241.7h0M277.7 260.2h0M272.0 188.9h0M271.3 192.2h0M267.9 137.2h0M269.1 140.5h0M274.2 139.2h0M262.8 133.4h0M274.7 157.6h0M278.8 161.4h0M283.2 166.5h0" stroke="#0000f0" stroke-width="3.30" stroke-linecap="round" fill="none"/>
<path d="M80.4 14.7L298.8 166.6" stroke="#000" stroke-width="2.6"/>
<path d="M301.7 105.8L285.2 144.8" stroke="#444" stroke-width="0.9"/>
<path d="M283.2 141.1L283.5 148.8L289.2 143.6L285.5 144.2Z" fill="#111"/>
<text x="252.3" y="102.9" class="eq">y = -10.86x + 12.16</text>
<text x="51.6" y="15.2" class="pl">(a)</text>
<rect x="46.5" y="241.5" width="226.7" height="31.4" fill="#fff" stroke="#8a8a8a" stroke-width="1"/>
<circle cx="60.7" cy="250" r="2.6" fill="#0000f0"/>
<path d="M48.7 264.4H73.4" stroke="#000" stroke-width="2.6"/>
<text x="75.5" y="254.1" class="lg">GPR data before the depth correction</text>
<text x="75.5" y="268.8" class="lg">90th percentile linear regression</text>
<path d="M459.0 10.2V277.0H777.5" fill="none" stroke="#6e6e6e" stroke-width="1"/>
<path d="M459.0 10.2h3M459.0 38.3h3M459.0 66.3h3M459.0 94.4h3M459.0 122.4h3M459.0 150.5h3M459.0 178.6h3M459.0 206.6h3M459.0 234.7h3M459.0 262.7h3M479.0 277.0v-3M578.5 277.0v-3M678.0 277.0v-3M777.5 277.0v-3" fill="none" stroke="#444" stroke-width="0.8"/>
<text x="454.7" y="14.6" text-anchor="end" class="tl">4</text>
<text x="454.7" y="42.7" text-anchor="end" class="tl">2</text>
<text x="454.7" y="70.7" text-anchor="end" class="tl">0</text>
<text x="454.7" y="98.8" text-anchor="end" class="tl">-2</text>
<text x="454.7" y="126.8" text-anchor="end" class="tl">-4</text>
<text x="454.7" y="154.9" text-anchor="end" class="tl">-6</text>
<text x="454.7" y="183.0" text-anchor="end" class="tl">-8</text>
<text x="454.7" y="211.0" text-anchor="end" class="tl">-10</text>
<text x="454.7" y="239.1" text-anchor="end" class="tl">-12</text>
<text x="454.7" y="267.1" text-anchor="end" class="tl">-14</text>
<text x="479.0" y="292" text-anchor="middle" class="tl">0.5</text>
<text x="578.5" y="292" text-anchor="middle" class="tl">1</text>
<text x="678.0" y="292" text-anchor="middle" class="tl">1.5</text>
<text x="777.5" y="292" text-anchor="middle" class="tl">2</text>
<text x="617.6" y="306.9" text-anchor="middle" class="xl">Two-Way Travel Time (ns)</text>
<text transform="translate(433.2 144.8) rotate(-90)" text-anchor="middle" class="yl">Normalized amplitude (dB)</text>
<path d="M572.0 56.0L573.0 56.0L574.0 56.0L575.0 56.0L576.0 56.0L577.0 56.0L578.0 56.0L579.0 56.0L580.0 56.0L581.0 56.0L582.0 56.0L583.0 56.0L584.0 56.0L585.0 56.0L586.0 56.0L587.0 56.0L588.0 56.0L589.0 56.0L590.0 56.0L591.0 56.0L592.0 56.0L593.0 56.0L594.0 56.0L595.0 56.0L596.0 56.0L597.0 56.5L598.0 56.5L599.0 56.5L600.0 56.5L601.0 56.5L602.0 56.5L603.0 56.5L604.0 56.5L605.0 56.5L606.0 57.5L607.0 58.0L608.0 58.5L609.0 59.5L610.0 60.0L611.0 61.0L612.0 61.5L613.0 62.0L614.0 63.0L615.0 63.5L616.0 64.0L617.0 65.0L618.0 65.5L619.0 66.0L620.0 67.0L621.0 67.5L622.0 68.5L623.0 69.5L624.0 70.0L625.0 71.0L626.0 72.0L627.0 72.5L628.0 73.5L629.0 74.5L629.0 117.0L628.0 117.0L627.0 117.0L626.0 117.0L625.0 117.5L624.0 117.5L623.0 117.5L622.0 117.5L621.0 118.0L620.0 118.0L619.0 118.0L618.0 118.0L617.0 118.0L616.0 118.0L615.0 118.5L614.0 118.5L613.0 118.5L612.0 118.5L611.0 118.5L610.0 118.5L609.0 118.5L608.0 118.5L607.0 119.0L606.0 119.0L605.0 119.0L604.0 119.0L603.0 118.5L602.0 118.5L601.0 118.5L600.0 118.5L599.0 118.5L598.0 118.5L597.0 118.5L596.0 118.5L595.0 118.0L594.0 118.0L593.0 118.0L592.0 118.0L591.0 118.0L590.0 118.0L589.0 117.5L588.0 116.5L587.0 116.0L586.0 115.5L585.0 114.5L584.0 114.0L583.0 113.0L582.0 112.5L581.0 108.0L580.0 100.0L579.0 93.0L578.0 87.5L577.0 83.0L576.0 79.0L575.0 75.5L574.0 69.0L573.0 62.5L572.0 56.0Z" fill="#0000f0"/>
<path d="M509.6 78.9h0M513.9 74.0h0M514.5 81.3h0M513.6 87.4h0M514.7 81.2h0M516.9 59.0h0M517.2 117.4h0M518.1 82.0h0M518.3 85.1h0M518.1 92.1h0M519.5 52.9h0M519.3 64.9h0M518.9 78.1h0M519.4 97.1h0M519.7 70.3h0M519.6 72.6h0M521.1 56.3h0M521.2 65.8h0M521.2 67.5h0M521.9 65.5h0M522.2 83.3h0M522.4 83.4h0M522.1 99.0h0M521.9 103.2h0M523.4 53.6h0M523.1 74.1h0M523.5 92.5h0M523.1 100.5h0M524.0 71.1h0M524.3 73.8h0M523.8 85.1h0M524.3 114.4h0M524.7 53.0h0M525.5 55.5h0M525.1 78.1h0M525.2 81.6h0M526.3 58.5h0M526.2 71.3h0M526.5 96.2h0M525.9 114.8h0M527.1 64.9h0M527.0 77.4h0M527.5 137.8h0M528.2 53.9h0M528.0 64.6h0M527.7 65.7h0M527.7 95.2h0M529.1 54.3h0M529.0 59.6h0M528.8 61.4h0M528.8 87.0h0M529.1 96.8h0M530.0 57.2h0M529.9 57.1h0M530.2 67.0h0M529.6 67.0h0M529.8 69.6h0M530.0 71.4h0M530.1 73.2h0M530.3 75.5h0M529.9 82.5h0M529.9 89.5h0M529.6 94.1h0M531.0 59.1h0M531.1 63.9h0M531.5 65.6h0M531.4 77.7h0M530.6 85.8h0M531.5 89.3h0M530.7 94.9h0M531.3 127.7h0M532.3 57.5h0M531.6 70.8h0M532.3 75.9h0M532.4 76.8h0M531.6 77.2h0M532.2 82.2h0M532.1 87.2h0M532.2 89.4h0M531.9 98.7h0M532.1 109.0h0M532.8 53.3h0M533.4 55.1h0M533.0 61.4h0M533.0 69.5h0M533.3 74.2h0M532.7 77.7h0M533.1 82.5h0M533.1 86.1h0M532.7 86.4h0M533.9 55.8h0M534.1 59.0h0M534.3 63.7h0M533.8 64.8h0M533.6 69.5h0M534.9 60.8h0M535.0 79.5h0M535.0 80.4h0M534.5 84.2h0M535.1 86.5h0M534.9 89.7h0M535.1 93.3h0M534.8 121.7h0M536.2 53.4h0M536.0 55.0h0M535.6 63.2h0M536.3 63.5h0M536.3 67.0h0M536.1 67.9h0M535.6 74.6h0M535.7 95.1h0M535.8 107.6h0M535.9 135.8h0M536.8 55.0h0M537.2 61.4h0M536.7 62.1h0M537.2 65.4h0M536.5 77.1h0M536.6 91.7h0M537.1 100.9h0M536.7 105.1h0M536.6 107.7h0M537.1 112.0h0M536.8 115.0h0M538.3 58.0h0M537.9 77.2h0M538.2 82.2h0M537.6 82.2h0M537.9 86.7h0M537.9 91.0h0M537.7 113.1h0M539.4 60.5h0M538.9 59.7h0M539.0 65.6h0M538.6 69.2h0M538.8 76.8h0M539.4 107.9h0M539.6 53.0h0M539.5 60.0h0M540.4 60.7h0M540.0 61.6h0M540.3 62.0h0M539.6 63.3h0M540.2 68.2h0M540.4 74.8h0M539.6 76.2h0M540.2 79.2h0M540.2 83.2h0M539.6 85.9h0M539.6 92.5h0M539.5 98.6h0M539.6 104.9h0M540.2 123.1h0M540.7 50.6h0M540.8 62.0h0M540.5 65.7h0M541.3 70.0h0M541.3 71.2h0M540.9 80.2h0M541.5 91.0h0M540.8 134.1h0M540.8 135.3h0M541.8 53.8h0M542.1 55.5h0M542.2 57.6h0M542.5 62.2h0M541.5 62.9h0M541.5 66.3h0M541.8 66.5h0M541.9 66.6h0M542.0 67.7h0M542.4 73.4h0M541.7 75.3h0M542.5 88.7h0M541.6 98.2h0M541.8 100.7h0M542.0 102.2h0M541.9 119.3h0M542.7 51.6h0M543.3 68.7h0M542.6 77.3h0M542.7 78.2h0M542.5 79.2h0M542.8 83.9h0M543.4 95.1h0M543.2 94.8h0M542.9 98.0h0M542.7 115.2h0M544.2 52.4h0M544.1 66.8h0M543.6 68.6h0M543.8 69.1h0M544.0 69.6h0M544.2 71.7h0M543.9 81.8h0M545.4 58.2h0M545.2 62.2h0M544.7 66.3h0M545.3 73.7h0M545.1 75.3h0M544.6 79.8h0M544.6 98.8h0M545.5 54.4h0M545.9 56.0h0M545.7 59.0h0M546.3 66.6h0M546.4 68.2h0M546.3 72.7h0M545.7 73.2h0M545.7 87.1h0M545.8 86.6h0M545.9 91.9h0M546.2 93.4h0M545.6 101.3h0M546.1 104.1h0M546.3 103.6h0M546.2 121.1h0M547.2 53.8h0M546.5 55.5h0M547.1 55.6h0M547.0 61.4h0M547.3 68.7h0M546.9 80.3h0M546.8 80.7h0M546.9 83.7h0M547.4 86.4h0M546.9 91.1h0M547.3 98.4h0M547.0 101.7h0M547.4 102.7h0M546.5 122.8h0M547.2 127.6h0M547.8 54.2h0M548.2 64.4h0M547.8 66.5h0M548.3 68.1h0M548.2 72.2h0M547.5 78.6h0M548.0 90.9h0M548.3 96.4h0M548.0 96.9h0M548.2 107.8h0M547.8 113.1h0M547.6 148.0h0M548.9 51.6h0M549.1 52.3h0M549.3 61.0h0M548.7 69.4h0M549.1 86.1h0M549.2 89.3h0M548.6 91.7h0M550.2 50.5h0M550.0 51.2h0M549.5 53.0h0M550.4 52.9h0M549.7 56.7h0M550.0 60.8h0M550.0 61.7h0M550.0 74.9h0M549.8 79.9h0M550.4 81.9h0M550.4 84.8h0M549.6 94.8h0M550.3 98.5h0M550.2 102.7h0M550.4 108.2h0M551.5 53.7h0M550.6 55.5h0M551.3 61.7h0M551.5 63.3h0M550.9 65.4h0M551.3 65.3h0M550.8 67.6h0M550.6 78.4h0M550.8 79.9h0M551.2 95.0h0M551.0 99.4h0M550.7 103.1h0M551.0 107.9h0M550.7 109.6h0M551.2 111.3h0M551.5 112.1h0M551.5 52.5h0M552.2 54.0h0M552.4 55.9h0M552.5 57.2h0M551.8 63.5h0M552.3 65.1h0M552.0 65.0h0M551.6 68.1h0M551.8 69.7h0M551.7 76.9h0M551.6 78.2h0M551.7 80.3h0M551.7 105.0h0M552.2 105.4h0M552.3 110.5h0M553.1 51.7h0M552.9 58.8h0M553.5 63.8h0M553.2 64.9h0M553.2 82.3h0M553.4 83.7h0M552.7 90.1h0M552.8 93.2h0M552.7 96.0h0M553.3 102.6h0M553.0 123.5h0M553.6 53.2h0M554.2 65.0h0M554.1 70.4h0M554.4 76.6h0M554.3 83.8h0M554.1 98.0h0M553.8 101.2h0M553.9 100.6h0M553.8 103.7h0M553.8 108.4h0M553.6 109.1h0M553.7 117.8h0M554.2 128.0h0M555.4 53.1h0M555.4 53.9h0M555.1 53.8h0M555.3 54.4h0M554.9 64.2h0M555.2 67.3h0M554.7 71.3h0M555.4 74.8h0M554.5 80.0h0M554.6 91.4h0M555.2 96.4h0M555.4 98.1h0M554.7 105.4h0M554.7 111.5h0M555.4 112.5h0M555.2 117.2h0M555.7 54.2h0M556.2 54.5h0M555.8 58.5h0M556.1 59.8h0M556.2 59.9h0M556.3 61.2h0M556.2 63.0h0M556.1 64.9h0M556.1 73.3h0M555.6 77.8h0M556.2 83.8h0M556.3 85.0h0M555.6 94.4h0M555.7 113.1h0M555.6 120.1h0M556.6 53.2h0M556.7 53.8h0M556.8 58.3h0M557.4 59.8h0M557.2 62.1h0M557.3 67.4h0M557.3 67.5h0M557.4 67.6h0M556.5 71.6h0M557.4 73.6h0M557.4 77.2h0M557.3 78.2h0M557.1 86.4h0M557.4 90.4h0M556.6 92.9h0M557.4 92.9h0M556.8 95.1h0M557.2 98.1h0M557.0 99.0h0M557.0 101.0h0M556.7 103.7h0M556.7 110.2h0M558.0 51.9h0M558.3 55.1h0M557.6 58.9h0M558.1 58.9h0M558.1 62.4h0M557.9 62.9h0M558.4 66.6h0M558.0 78.1h0M557.7 77.8h0M558.1 84.5h0M558.2 89.3h0M558.0 99.5h0M558.4 98.8h0M558.4 106.1h0M557.9 107.6h0M558.8 68.2h0M558.6 69.5h0M559.1 69.9h0M559.4 72.6h0M558.7 81.5h0M559.0 82.8h0M559.5 86.7h0M558.6 87.2h0M558.6 97.4h0M559.2 99.0h0M558.7 104.0h0M558.9 125.5h0M559.5 131.6h0M559.3 134.5h0M559.3 146.9h0M560.3 63.6h0M560.1 68.3h0M559.5 72.4h0M559.7 72.7h0M559.8 73.8h0M559.5 75.3h0M560.3 79.3h0M560.0 92.3h0M559.9 93.9h0M559.5 96.1h0M560.5 96.3h0M559.9 102.4h0M559.7 112.1h0M560.3 130.5h0M559.7 142.7h0M561.4 55.6h0M561.4 55.9h0M560.6 60.1h0M561.3 76.7h0M560.9 82.5h0M561.2 81.9h0M561.1 92.1h0M561.0 101.5h0M560.7 104.8h0M561.2 105.5h0M561.0 107.5h0M561.2 115.8h0M560.9 125.5h0M561.1 140.5h0M561.8 51.8h0M562.5 52.9h0M561.8 66.3h0M562.2 65.8h0M562.1 76.8h0M561.8 85.1h0M561.7 87.6h0M562.1 89.3h0M562.2 90.2h0M561.6 93.8h0M561.7 96.9h0M561.6 102.1h0M562.2 107.9h0M561.5 125.8h0M561.8 131.7h0M562.5 135.1h0M562.4 146.0h0M562.4 152.7h0M562.6 50.1h0M562.9 51.9h0M563.3 56.4h0M562.8 56.9h0M563.0 58.5h0M563.2 60.1h0M562.5 60.9h0M563.2 64.7h0M562.5 69.1h0M563.3 70.4h0M562.8 77.0h0M563.5 80.6h0M563.5 81.0h0M562.9 84.6h0M563.1 88.2h0M562.7 89.2h0M562.6 89.7h0M562.8 94.8h0M563.4 95.3h0M563.2 105.4h0M563.3 120.1h0M564.0 60.6h0M564.1 66.2h0M563.7 69.4h0M563.8 69.7h0M564.1 72.7h0M563.7 77.0h0M563.7 77.6h0M564.5 84.0h0M564.2 88.2h0M563.5 91.3h0M564.0 92.2h0M564.0 92.0h0M563.8 91.7h0M564.0 94.2h0M563.8 96.6h0M563.6 100.0h0M563.6 102.4h0M563.7 103.5h0M564.0 111.1h0M564.5 114.8h0M564.0 117.2h0M564.5 55.9h0M565.4 59.5h0M565.1 61.9h0M565.0 65.2h0M565.0 66.7h0M565.3 67.6h0M564.8 68.6h0M564.9 68.9h0M564.6 70.3h0M565.0 77.0h0M565.5 80.8h0M564.7 80.9h0M564.8 81.9h0M565.1 96.5h0M564.9 97.7h0M565.5 100.3h0M565.0 102.7h0M564.7 102.7h0M565.0 104.6h0M564.7 106.5h0M566.2 58.8h0M565.8 67.8h0M566.5 70.2h0M566.2 70.3h0M566.2 70.7h0M565.5 71.4h0M566.0 72.1h0M566.1 76.8h0M565.9 77.2h0M566.1 79.6h0M566.4 84.7h0M566.2 90.7h0M565.6 94.6h0M565.6 100.6h0M566.2 103.3h0M565.8 104.7h0M566.5 107.3h0M566.5 107.9h0M567.1 56.0h0M566.8 57.1h0M567.3 57.1h0M567.3 59.3h0M567.2 69.2h0M567.4 70.0h0M567.0 74.2h0M567.0 76.1h0M566.5 77.7h0M567.4 78.7h0M566.9 83.5h0M567.2 84.7h0M567.1 89.4h0M566.7 94.6h0M566.8 106.0h0M567.2 114.1h0M567.5 135.9h0M566.7 172.7h0M567.5 52.7h0M567.6 53.8h0M567.6 54.0h0M567.6 56.2h0M567.8 56.9h0M568.5 57.3h0M568.4 58.1h0M568.0 63.5h0M568.0 65.2h0M568.3 65.1h0M568.0 67.6h0M567.9 68.3h0M567.7 69.0h0M568.0 86.0h0M567.7 87.9h0M568.1 88.1h0M568.0 89.3h0M567.5 90.8h0M567.7 92.2h0M568.3 93.2h0M567.5 95.1h0M568.0 94.7h0M568.2 100.8h0M567.6 109.4h0M567.5 112.1h0M567.9 125.9h0M569.5 52.7h0M568.7 54.6h0M569.1 62.2h0M568.8 63.1h0M569.4 70.6h0M569.1 72.6h0M569.2 74.1h0M569.4 77.0h0M568.7 84.4h0M569.1 94.5h0M568.7 108.6h0M569.5 125.2h0M570.1 51.8h0M570.4 54.2h0M569.6 54.9h0M569.7 58.3h0M570.0 62.3h0M569.9 62.6h0M570.3 67.3h0M569.6 69.4h0M570.3 73.7h0M569.7 75.7h0M569.8 78.0h0M569.5 78.2h0M570.3 83.0h0M570.2 86.1h0M570.4 86.3h0M569.6 85.9h0M570.3 86.6h0M569.7 93.1h0M570.3 101.3h0M570.0 105.5h0M569.7 106.8h0M569.6 114.8h0M570.5 128.9h0M570.9 53.8h0M571.0 60.3h0M571.0 60.0h0M571.1 60.4h0M571.1 64.0h0M570.9 71.7h0M570.8 74.3h0M571.0 73.9h0M571.1 76.6h0M571.1 79.9h0M570.7 81.1h0M570.5 81.4h0M571.0 80.5h0M571.3 81.8h0M571.4 92.2h0M570.8 91.8h0M571.3 98.9h0M571.2 101.3h0M571.4 103.3h0M571.0 105.0h0M571.1 105.8h0M570.6 113.7h0M571.4 124.4h0M572.2 50.6h0M572.3 56.0h0M571.6 58.3h0M571.9 60.2h0M572.2 62.4h0M572.2 65.9h0M572.0 65.5h0M572.0 67.7h0M572.0 73.2h0M571.7 76.4h0M572.1 78.0h0M572.3 78.4h0M571.9 79.4h0M572.1 80.3h0M571.9 90.1h0M571.9 93.2h0M572.5 94.3h0M571.6 94.7h0M571.8 94.7h0M571.8 99.2h0M571.8 101.4h0M572.3 110.9h0M571.6 113.4h0M572.0 117.3h0M572.3 157.8h0M572.7 51.2h0M573.1 52.7h0M572.9 54.4h0M573.0 59.4h0M572.9 59.4h0M572.9 61.4h0M573.0 66.2h0M573.1 67.6h0M573.1 70.1h0M572.6 69.7h0M572.8 73.4h0M573.0 82.7h0M572.7 86.4h0M572.8 88.7h0M572.8 97.1h0M572.8 98.2h0M572.6 98.7h0M572.6 100.4h0M572.7 104.1h0M572.7 109.2h0M572.6 110.5h0M573.3 114.3h0M573.3 119.1h0M573.3 119.0h0M572.9 118.8h0M573.4 119.4h0M573.3 124.4h0M573.4 127.6h0M572.8 137.8h0M574.1 52.6h0M574.0 55.2h0M573.7 54.7h0M574.0 55.3h0M573.7 63.0h0M574.4 65.4h0M574.0 67.6h0M574.2 70.0h0M573.5 73.0h0M573.9 75.0h0M573.8 82.6h0M574.3 86.9h0M574.3 90.7h0M573.8 91.1h0M573.8 91.9h0M574.5 96.8h0M573.8 108.1h0M574.4 111.0h0M574.1 114.7h0M575.4 53.0h0M575.5 54.5h0M575.2 57.9h0M575.0 60.1h0M574.9 60.0h0M574.9 62.2h0M574.7 61.5h0M575.1 66.8h0M575.2 71.2h0M574.8 79.9h0M574.5 80.8h0M575.0 88.3h0M575.0 99.5h0M575.3 101.3h0M575.1 103.1h0M574.9 103.4h0M574.9 109.1h0M575.2 112.1h0M574.9 114.1h0M575.4 117.0h0M576.3 51.8h0M576.2 52.9h0M575.9 58.2h0M576.3 62.6h0M576.0 68.2h0M576.1 74.8h0M575.9 79.1h0M576.3 84.0h0M576.0 87.9h0M575.7 91.8h0M575.6 93.2h0M576.4 93.8h0M576.1 99.1h0M576.1 100.0h0M575.6 101.3h0M576.4 104.2h0M575.5 106.7h0M576.1 112.5h0M575.5 111.8h0M575.5 115.0h0M576.0 117.7h0M577.2 49.8h0M576.5 50.9h0M576.6 55.8h0M577.1 56.0h0M577.0 55.9h0M577.5 57.4h0M576.5 57.4h0M577.3 56.6h0M577.4 57.8h0M577.3 61.3h0M577.0 63.3h0M577.0 64.7h0M577.1 65.5h0M577.3 72.9h0M577.3 77.1h0M577.2 76.8h0M577.5 79.5h0M577.3 80.7h0M576.7 87.1h0M576.8 97.8h0M577.1 102.5h0M576.9 106.6h0M577.2 108.9h0M576.8 111.7h0M578.1 54.1h0M578.3 55.5h0M577.6 56.1h0M577.7 57.8h0M578.3 58.8h0M578.3 66.0h0M578.3 66.9h0M578.5 68.9h0M577.8 69.7h0M577.7 76.0h0M578.1 80.4h0M578.3 80.2h0M577.7 81.1h0M578.3 81.9h0M577.8 84.5h0M577.6 86.9h0M578.1 90.1h0M578.5 90.6h0M578.0 95.5h0M577.8 99.6h0M577.7 101.0h0M577.8 103.9h0M577.9 110.0h0M577.7 112.5h0M577.8 112.5h0M577.9 111.7h0M578.1 113.5h0M578.0 113.8h0M577.8 151.9h0M578.6 52.9h0M579.2 56.4h0M578.8 57.3h0M579.0 57.1h0M579.4 60.3h0M579.5 61.2h0M578.7 60.5h0M578.5 62.9h0M578.6 62.8h0M579.2 65.1h0M579.4 65.9h0M579.4 77.2h0M579.0 80.0h0M578.9 81.1h0M579.1 83.1h0M578.7 90.0h0M579.3 89.9h0M578.6 94.8h0M578.6 95.7h0M578.9 97.1h0M578.7 97.5h0M579.0 98.8h0M579.0 98.7h0M579.1 99.3h0M579.3 102.1h0M578.8 110.7h0M579.1 112.6h0M578.9 114.5h0M579.2 116.4h0M578.8 115.7h0M579.3 118.7h0M579.1 132.5h0M580.4 51.4h0M579.8 51.9h0M580.3 52.3h0M579.9 58.6h0M579.8 59.1h0M580.3 63.7h0M580.0 64.5h0M579.5 65.3h0M580.0 69.6h0M579.7 71.7h0M579.8 75.4h0M579.5 75.8h0M579.5 77.2h0M580.1 77.5h0M580.1 78.7h0M580.3 82.9h0M580.1 83.2h0M579.8 83.8h0M579.7 85.0h0M579.7 84.9h0M579.6 86.9h0M579.5 87.4h0M580.4 88.1h0M579.9 88.0h0M580.5 92.3h0M579.8 92.2h0M580.3 93.3h0M580.2 103.7h0M579.6 111.0h0M580.1 114.9h0M579.5 116.7h0M579.5 127.0h0M580.7 55.7h0M580.7 56.7h0M580.8 58.5h0M581.0 59.9h0M580.5 66.6h0M580.8 72.4h0M580.8 74.4h0M580.6 75.0h0M580.8 81.9h0M580.9 83.3h0M580.5 85.0h0M581.0 87.3h0M580.7 86.9h0M581.2 89.0h0M581.3 92.7h0M581.2 96.1h0M581.3 101.2h0M580.5 102.1h0M580.7 103.8h0M581.3 104.5h0M580.8 106.1h0M581.4 108.0h0M581.4 110.0h0M581.4 114.2h0M580.7 116.8h0M581.4 124.3h0M581.6 54.3h0M581.5 53.8h0M582.1 56.0h0M582.3 60.0h0M582.4 61.5h0M582.1 64.3h0M582.4 64.5h0M582.4 67.5h0M582.4 68.3h0M581.7 70.7h0M581.8 73.4h0M582.2 74.5h0M581.9 76.5h0M581.5 75.6h0M581.9 79.5h0M581.6 86.5h0M582.2 86.0h0M582.0 87.2h0M582.0 87.3h0M582.2 89.9h0M581.7 92.6h0M582.4 93.8h0M581.6 94.8h0M582.5 96.3h0M582.4 98.1h0M582.2 99.3h0M581.6 104.5h0M582.3 105.7h0M582.2 108.1h0M581.6 112.2h0M582.1 112.9h0M581.8 119.6h0M582.1 121.0h0M581.7 127.3h0M582.0 152.9h0M583.2 51.8h0M583.0 54.5h0M582.9 56.3h0M583.0 57.6h0M583.1 59.1h0M582.9 61.8h0M582.9 63.5h0M582.6 70.4h0M582.6 73.1h0M583.5 73.7h0M583.4 74.1h0M583.4 80.7h0M582.5 81.9h0M582.6 87.2h0M582.8 86.6h0M582.5 96.0h0M583.4 98.6h0M583.1 101.5h0M582.7 105.6h0M583.3 107.1h0M582.7 111.2h0M583.3 111.2h0M582.5 110.7h0M583.4 120.2h0M583.0 120.7h0M582.7 124.0h0M583.7 55.0h0M583.8 55.8h0M583.8 58.1h0M583.9 58.7h0M583.6 61.1h0M584.4 62.8h0M584.0 64.2h0M583.7 65.4h0M583.9 65.0h0M584.4 66.0h0M584.3 70.4h0M583.8 76.1h0M584.1 77.5h0M583.8 86.2h0M583.6 89.0h0M584.3 91.8h0M584.0 93.2h0M583.8 94.1h0M583.7 95.3h0M584.0 98.9h0M584.1 100.5h0M584.1 102.1h0M584.0 110.2h0M584.5 111.6h0M584.3 118.8h0M584.5 119.0h0M584.1 135.3h0M585.0 46.6h0M584.8 55.6h0M585.3 56.7h0M584.6 56.7h0M585.1 56.7h0M585.0 59.3h0M585.0 60.4h0M584.8 60.9h0M584.6 64.0h0M585.3 66.2h0M585.1 69.5h0M585.2 71.4h0M584.9 71.9h0M585.0 72.3h0M585.0 81.4h0M585.3 81.9h0M584.9 82.7h0M585.3 83.9h0M585.0 85.8h0M585.1 96.0h0M585.2 97.5h0M585.0 99.2h0M584.8 101.2h0M584.6 100.6h0M585.1 106.6h0M585.1 108.8h0M585.2 109.8h0M584.6 111.9h0M584.9 115.8h0M585.1 158.7h0M586.3 53.2h0M586.1 55.4h0M586.2 55.6h0M586.2 56.1h0M585.7 59.3h0M586.0 62.2h0M586.5 64.4h0M586.1 65.1h0M586.5 67.5h0M586.1 72.1h0M586.1 87.6h0M586.3 87.6h0M586.0 88.8h0M585.5 92.2h0M585.9 92.9h0M586.3 97.3h0M586.0 98.7h0M585.6 100.2h0M585.7 100.7h0M586.2 103.9h0M586.4 105.3h0M586.2 106.7h0M585.8 107.6h0M585.6 109.0h0M585.9 109.6h0M586.0 110.7h0M585.8 112.8h0M586.3 114.7h0M585.9 116.0h0M586.5 115.8h0M585.7 115.8h0M585.7 116.8h0M586.2 117.3h0M585.9 119.1h0M586.3 120.2h0M585.9 120.7h0M587.4 50.1h0M586.7 53.5h0M586.6 54.6h0M586.8 54.6h0M587.3 59.5h0M587.4 65.6h0M587.0 67.8h0M587.1 71.4h0M586.8 71.8h0M587.1 72.8h0M587.2 74.1h0M587.5 76.0h0M586.8 78.9h0M587.1 82.7h0M586.8 83.2h0M586.6 86.3h0M587.3 88.2h0M586.6 94.1h0M586.8 94.9h0M586.7 98.9h0M587.1 101.1h0M587.0 101.7h0M586.6 102.3h0M586.6 103.4h0M587.0 107.3h0M587.0 106.7h0M587.0 107.1h0M587.4 106.9h0M587.3 113.8h0M586.7 116.1h0M586.7 116.1h0M586.9 115.7h0M587.0 116.3h0M587.3 119.5h0M587.1 123.7h0M586.6 130.7h0M588.2 51.2h0M588.1 55.2h0M587.6 56.3h0M587.7 58.7h0M588.1 62.3h0M587.7 64.6h0M587.7 66.2h0M588.4 70.9h0M588.3 73.3h0M587.8 74.4h0M588.0 75.7h0M587.8 78.0h0M588.4 78.1h0M588.4 80.3h0M587.5 79.8h0M588.4 82.2h0M587.7 85.2h0M588.3 88.7h0M588.0 90.2h0M588.4 91.2h0M588.1 95.0h0M587.6 95.7h0M588.4 98.2h0M587.8 99.5h0M588.2 102.4h0M588.1 104.3h0M587.8 104.7h0M587.9 104.8h0M587.9 106.8h0M587.6 108.3h0M588.4 113.0h0M587.7 114.0h0M588.4 123.6h0M588.3 127.0h0M588.3 129.7h0M588.4 132.3h0M588.0 132.5h0M587.9 135.3h0M588.1 137.7h0M588.7 53.0h0M589.5 55.7h0M588.8 55.6h0M588.7 58.0h0M589.4 59.9h0M588.5 60.2h0M588.9 61.1h0M588.6 61.8h0M589.3 68.8h0M589.4 71.4h0M588.7 78.2h0M589.1 80.7h0M589.4 81.8h0M588.9 85.2h0M588.9 85.9h0M588.8 85.6h0M589.4 86.7h0M588.6 88.6h0M589.1 92.4h0M589.0 97.1h0M588.7 97.1h0M589.5 100.5h0M589.3 103.0h0M589.0 103.5h0M589.2 102.6h0M589.3 104.5h0M589.2 106.4h0M589.5 110.6h0M589.3 111.3h0M588.7 112.0h0M588.9 127.8h0M589.5 132.4h0M589.2 141.7h0M588.7 143.2h0M589.0 158.8h0M590.5 53.1h0M590.4 55.6h0M589.9 57.1h0M589.6 59.1h0M589.9 58.5h0M589.9 61.6h0M589.7 66.7h0M589.9 67.3h0M589.6 69.2h0M590.2 70.7h0M590.5 71.0h0M590.0 71.0h0M589.5 83.7h0M589.8 83.7h0M589.7 85.5h0M589.6 86.4h0M589.8 86.9h0M590.1 88.6h0M589.9 91.4h0M590.5 93.5h0M590.0 96.4h0M590.4 100.1h0M589.6 101.6h0M590.4 105.8h0M589.9 108.2h0M589.8 109.9h0M590.3 111.5h0M590.0 119.3h0M589.7 119.6h0M590.4 121.8h0M590.5 124.0h0M590.3 125.4h0M590.1 126.0h0M590.0 127.6h0M590.3 129.4h0M589.8 136.4h0M590.0 151.8h0M590.1 155.1h0M591.0 52.7h0M591.2 54.1h0M591.4 57.9h0M591.0 62.5h0M591.5 62.2h0M590.6 62.7h0M591.4 64.1h0M591.3 72.0h0M591.4 73.0h0M590.6 73.1h0M591.1 76.1h0M591.1 76.5h0M591.3 82.3h0M591.2 82.1h0M591.0 82.0h0M591.3 83.6h0M591.3 85.6h0M590.8 87.9h0M591.4 89.6h0M591.2 90.7h0M590.6 95.5h0M591.0 95.8h0M591.3 96.8h0M590.5 97.0h0M590.9 97.6h0M591.2 98.9h0M590.8 99.8h0M590.7 100.9h0M591.5 101.1h0M590.9 102.3h0M590.7 103.0h0M591.2 108.6h0M591.2 112.1h0M591.4 113.2h0M591.1 121.8h0M590.9 130.1h0M592.2 54.4h0M592.3 58.9h0M591.7 61.0h0M591.7 65.5h0M592.0 68.5h0M592.5 69.3h0M592.4 74.3h0M591.7 74.0h0M591.8 80.4h0M592.2 80.4h0M591.7 81.4h0M592.4 81.5h0M592.4 81.7h0M592.2 87.4h0M591.8 86.6h0M592.4 87.0h0M592.1 87.7h0M592.2 90.3h0M592.0 92.9h0M592.1 94.2h0M591.6 93.7h0M592.0 95.7h0M592.0 97.3h0M592.3 101.1h0M591.5 102.3h0M591.8 106.8h0M592.1 111.4h0M591.9 112.7h0M592.0 117.1h0M592.1 117.6h0M591.7 127.2h0M592.4 134.3h0M591.7 175.3h0M593.4 54.2h0M593.0 58.6h0M593.3 59.0h0M593.4 59.5h0M592.9 61.3h0M593.0 62.5h0M593.1 61.5h0M592.7 64.6h0M592.7 71.1h0M593.0 75.0h0M592.9 76.4h0M592.6 77.5h0M593.5 77.7h0M592.9 79.4h0M592.9 79.8h0M592.9 83.1h0M593.2 84.2h0M593.2 83.8h0M593.2 84.4h0M593.3 85.3h0M593.0 89.2h0M593.0 95.3h0M593.0 98.7h0M593.0 99.4h0M592.9 100.5h0M593.0 100.9h0M592.9 103.6h0M593.4 105.4h0M592.5 105.6h0M593.5 111.6h0M592.9 111.9h0M593.3 113.2h0M592.8 114.8h0M592.9 117.7h0M593.3 119.0h0M593.3 125.9h0M593.4 126.7h0M593.3 149.3h0M592.6 162.0h0M594.3 51.4h0M594.0 56.7h0M594.0 58.8h0M593.8 60.8h0M593.6 62.5h0M593.8 65.1h0M594.1 65.6h0M594.5 67.0h0M593.8 67.5h0M594.4 67.7h0M593.6 76.4h0M593.5 78.6h0M594.0 80.3h0M594.1 85.6h0M594.5 85.8h0M593.7 92.2h0M593.7 93.9h0M594.2 97.0h0M593.9 98.0h0M594.3 98.8h0M594.3 99.9h0M593.6 102.4h0M594.5 103.2h0M593.8 103.4h0M594.3 108.6h0M594.0 109.8h0M593.7 109.8h0M593.8 113.8h0M593.8 115.3h0M593.8 115.6h0M593.8 116.6h0M594.5 120.5h0M594.5 124.3h0M593.9 124.8h0M594.5 131.6h0M593.7 137.5h0M593.9 142.1h0M595.0 47.7h0M595.0 56.0h0M595.3 55.6h0M595.1 55.8h0M594.7 60.0h0M594.5 59.6h0M595.0 59.9h0M595.1 60.6h0M594.7 60.6h0M595.0 63.4h0M595.0 64.8h0M594.9 65.3h0M594.9 65.3h0M594.9 66.4h0M594.6 69.3h0M594.6 69.1h0M595.5 70.3h0M594.9 73.0h0M595.4 76.3h0M594.8 76.8h0M595.3 76.8h0M594.9 80.3h0M595.4 88.3h0M594.9 94.3h0M595.2 94.9h0M594.8 98.7h0M595.0 98.6h0M594.7 100.5h0M594.9 105.5h0M594.8 106.3h0M594.7 107.8h0M595.1 115.9h0M594.7 121.7h0M594.5 128.0h0M594.7 130.6h0M595.4 137.7h0M595.4 146.1h0M595.9 52.3h0M596.3 52.8h0M596.2 56.2h0M596.0 55.8h0M596.4 57.6h0M596.4 58.7h0M596.3 58.9h0M595.7 61.4h0M596.3 62.5h0M596.2 63.9h0M595.6 65.0h0M596.5 70.2h0M596.4 70.0h0M595.9 71.0h0M596.0 71.0h0M596.3 74.9h0M596.3 76.3h0M596.1 76.4h0M595.8 75.7h0M595.8 78.6h0M596.1 80.4h0M595.5 80.9h0M596.3 82.9h0M595.8 84.4h0M596.5 85.7h0M596.1 87.2h0M595.5 88.0h0M596.2 88.1h0M595.8 94.7h0M596.1 95.5h0M596.3 97.7h0M595.6 97.7h0M595.5 97.7h0M596.2 99.4h0M596.3 99.6h0M596.4 99.8h0M595.6 105.2h0M595.6 105.9h0M596.4 109.3h0M596.4 110.3h0M596.0 111.0h0M596.3 111.0h0M595.5 111.2h0M595.9 111.5h0M596.0 112.0h0M595.6 113.1h0M595.5 113.6h0M595.6 113.5h0M596.0 115.2h0M596.0 115.0h0M595.8 118.2h0M595.8 118.8h0M595.5 120.1h0M596.2 121.2h0M595.6 121.4h0M596.4 121.6h0M595.6 127.8h0M596.4 128.9h0M595.8 132.2h0M596.5 132.2h0M596.5 133.4h0M596.0 153.6h0M595.5 155.3h0M597.0 49.1h0M597.2 54.4h0M596.6 55.6h0M596.9 56.2h0M596.9 63.4h0M596.5 64.4h0M596.8 65.8h0M596.5 66.0h0M597.1 67.3h0M597.2 67.7h0M597.1 68.7h0M597.0 69.7h0M596.6 81.0h0M597.1 85.8h0M597.0 86.6h0M597.0 89.0h0M597.4 90.4h0M596.9 90.5h0M597.4 91.4h0M596.7 96.5h0M597.2 102.4h0M597.3 103.5h0M596.6 105.3h0M597.2 105.5h0M596.9 107.2h0M597.3 108.5h0M597.0 108.2h0M596.8 108.8h0M596.6 111.0h0M597.1 111.7h0M596.6 113.1h0M597.3 115.7h0M596.6 118.6h0M597.0 125.5h0M597.0 130.5h0M597.1 161.7h0M598.4 53.9h0M598.1 56.0h0M598.3 56.3h0M598.3 58.6h0M597.8 59.0h0M597.8 61.3h0M597.6 62.7h0M597.9 63.7h0M597.8 71.3h0M598.1 73.0h0M598.1 77.3h0M597.5 76.6h0M598.0 78.6h0M597.9 81.3h0M598.5 86.5h0M598.3 88.2h0M597.7 89.5h0M598.2 91.2h0M597.5 95.6h0M597.5 98.3h0M598.3 99.6h0M597.7 101.9h0M598.4 106.1h0M597.6 106.8h0M598.0 107.3h0M598.4 106.5h0M598.5 107.6h0M597.5 110.1h0M597.5 109.7h0M597.7 109.8h0M598.3 110.5h0M597.9 109.5h0M598.5 112.2h0M598.1 111.7h0M598.3 115.6h0M597.6 120.0h0M597.7 120.4h0M597.5 120.5h0M598.3 121.4h0M598.1 123.2h0M597.8 128.0h0M598.1 130.7h0M598.0 141.7h0M598.5 143.2h0M598.3 151.8h0M598.1 166.3h0M598.3 174.1h0M598.7 50.8h0M599.5 54.4h0M599.2 54.9h0M599.4 57.2h0M599.0 57.7h0M599.0 59.7h0M599.1 60.7h0M599.1 60.8h0M598.6 62.1h0M599.1 64.2h0M599.3 63.8h0M598.8 65.0h0M599.0 69.2h0M598.7 70.2h0M599.3 72.5h0M598.7 73.0h0M599.3 78.4h0M599.3 78.1h0M598.8 79.6h0M599.5 85.3h0M599.5 86.5h0M599.0 91.1h0M599.2 90.5h0M599.0 99.2h0M599.2 101.4h0M598.9 101.3h0M599.3 102.3h0M599.4 103.2h0M599.0 103.2h0M599.1 106.8h0M598.5 107.8h0M599.0 108.4h0M599.2 111.6h0M598.5 113.2h0M598.6 114.4h0M599.2 114.6h0M598.7 157.2h0M599.5 202.2h0M600.3 51.8h0M600.4 52.2h0M599.8 53.5h0M600.5 58.1h0M599.8 58.3h0M600.0 57.8h0M600.1 59.6h0M600.3 62.5h0M600.2 66.4h0M600.4 67.9h0M599.6 70.2h0M600.1 71.4h0M600.1 77.6h0M600.4 79.4h0M600.3 78.6h0M600.3 84.5h0M600.0 89.8h0M599.6 91.6h0M600.4 92.9h0M599.5 93.9h0M600.0 94.9h0M600.1 97.3h0M600.1 98.1h0M600.5 98.0h0M599.6 99.7h0M599.8 100.2h0M600.0 99.7h0M600.5 101.5h0M600.1 100.9h0M600.1 100.6h0M600.3 102.1h0M599.6 105.8h0M600.4 106.8h0M600.2 109.3h0M599.7 109.0h0M600.3 111.5h0M600.0 114.4h0M600.2 114.4h0M600.1 114.0h0M600.5 116.7h0M599.8 124.9h0M600.2 128.6h0M600.1 133.5h0M599.7 135.7h0M600.2 136.0h0M600.0 145.6h0M599.6 153.9h0M600.9 58.6h0M601.3 60.2h0M601.2 60.9h0M600.5 60.6h0M601.3 64.6h0M600.7 68.3h0M600.5 67.5h0M601.1 69.4h0M600.6 68.7h0M601.4 68.8h0M600.9 68.8h0M600.7 70.0h0M600.8 71.4h0M600.6 71.8h0M600.9 72.3h0M601.5 72.6h0M601.4 74.5h0M601.1 78.8h0M600.8 79.8h0M601.3 80.7h0M601.4 81.4h0M601.1 84.8h0M601.0 87.3h0M600.8 86.6h0M601.0 88.5h0M601.2 89.4h0M600.7 91.1h0M601.2 91.1h0M601.3 90.5h0M601.1 98.4h0M600.8 100.3h0M600.8 101.9h0M601.5 107.4h0M601.1 108.0h0M600.8 109.8h0M601.3 122.6h0M600.7 122.5h0M601.0 129.9h0M601.4 137.3h0M600.5 136.8h0M601.0 143.1h0M601.1 143.4h0M600.8 144.3h0M602.0 52.8h0M602.5 55.4h0M602.2 57.3h0M602.0 57.5h0M601.7 59.0h0M601.9 59.8h0M601.8 61.9h0M602.3 62.0h0M602.2 65.8h0M601.5 66.7h0M602.4 69.1h0M601.7 74.8h0M601.7 76.1h0M601.7 76.9h0M601.7 79.8h0M601.8 79.6h0M602.2 81.5h0M601.9 84.5h0M601.7 86.0h0M602.2 89.2h0M602.3 90.3h0M601.8 93.0h0M602.2 92.7h0M601.7 93.6h0M602.3 96.3h0M601.5 100.4h0M602.4 101.9h0M601.5 101.5h0M601.8 104.1h0M601.6 105.2h0M602.1 109.6h0M602.1 109.7h0M602.0 113.7h0M601.7 115.1h0M601.7 116.0h0M601.6 121.1h0M601.9 125.6h0M601.9 128.6h0M601.7 146.1h0M603.5 52.0h0M603.1 55.4h0M603.5 58.9h0M602.8 60.4h0M602.5 60.6h0M602.9 67.7h0M603.0 69.4h0M602.6 71.0h0M603.1 75.4h0M603.1 76.2h0M603.4 79.4h0M603.0 79.6h0M603.4 79.8h0M603.0 79.7h0M602.7 80.8h0M602.5 82.9h0M603.4 82.6h0M603.3 84.9h0M603.5 85.8h0M603.5 89.8h0M603.2 90.3h0M602.8 90.6h0M603.0 91.8h0M603.0 92.6h0M602.8 93.9h0M603.1 95.3h0M603.1 95.6h0M602.7 97.2h0M603.0 97.4h0M603.4 97.0h0M603.0 97.2h0M603.3 97.6h0M603.5 100.7h0M603.3 103.1h0M602.7 104.9h0M602.6 105.4h0M602.8 105.7h0M603.4 106.7h0M602.6 109.0h0M603.4 115.1h0M603.1 117.4h0M603.0 116.7h0M602.6 117.4h0M603.2 117.9h0M603.1 118.6h0M603.4 120.9h0M602.6 122.4h0M603.1 122.6h0M603.3 128.8h0M603.0 130.9h0M603.3 145.3h0M603.3 155.0h0M603.1 166.8h0M603.1 170.6h0M603.0 200.9h0M603.6 49.3h0M604.3 50.0h0M604.3 55.8h0M604.3 56.3h0M603.9 59.0h0M603.5 63.7h0M604.3 72.7h0M603.5 74.3h0M604.2 76.8h0M603.9 77.6h0M603.7 81.9h0M603.9 82.9h0M604.0 84.9h0M604.2 91.9h0M603.8 91.6h0M604.0 92.5h0M604.0 94.1h0M604.0 95.5h0M604.5 102.3h0M603.9 103.7h0M604.3 107.0h0M604.1 109.9h0M603.6 117.7h0M604.4 119.2h0M603.5 120.4h0M603.8 129.0h0M604.2 132.5h0M603.7 134.0h0M604.4 142.7h0M604.1 154.7h0M603.8 170.8h0M604.1 173.4h0M605.4 51.7h0M604.7 53.4h0M604.7 54.1h0M604.7 55.4h0M605.4 57.8h0M605.3 60.2h0M604.5 60.2h0M604.6 59.6h0M605.0 59.9h0M605.1 61.4h0M605.3 61.1h0M605.0 64.0h0M605.0 68.1h0M604.8 68.8h0M604.9 69.2h0M604.9 69.2h0M604.6 69.0h0M604.7 70.7h0M604.7 71.9h0M604.9 75.9h0M605.2 76.2h0M605.0 78.2h0M604.5 78.1h0M604.7 79.7h0M604.9 80.4h0M605.2 81.5h0M604.6 82.3h0M604.7 82.0h0M605.0 83.6h0M604.7 85.4h0M605.2 86.6h0M604.6 88.4h0M605.0 91.7h0M604.5 91.9h0M605.2 91.6h0M604.8 93.4h0M605.5 93.4h0M605.0 96.8h0M604.7 98.2h0M604.7 100.8h0M605.4 101.2h0M605.2 102.4h0M604.7 102.6h0M605.4 105.2h0M604.6 104.7h0M604.8 105.5h0M605.0 106.8h0M604.8 108.2h0M604.9 110.0h0M605.3 110.4h0M604.9 111.4h0M604.9 114.2h0M604.6 115.3h0M604.6 117.7h0M605.1 118.5h0M605.3 120.2h0M604.7 121.4h0M604.9 123.6h0M604.7 129.3h0M604.7 140.3h0M605.1 164.1h0M605.1 194.7h0M606.1 54.8h0M605.9 57.3h0M605.8 57.5h0M606.2 57.8h0M606.0 58.3h0M605.7 59.0h0M606.2 60.1h0M606.1 62.6h0M606.4 64.2h0M606.1 65.5h0M605.9 68.5h0M605.7 68.7h0M605.6 73.3h0M606.0 74.4h0M606.1 74.1h0M606.1 78.4h0M606.1 77.8h0M605.6 79.0h0M605.8 78.8h0M605.8 85.6h0M605.9 86.4h0M605.9 88.5h0M606.5 90.3h0M606.3 89.6h0M606.4 99.7h0M605.6 100.9h0M606.0 103.2h0M606.5 107.2h0M606.2 111.2h0M606.0 115.8h0M606.0 116.4h0M605.6 116.8h0M605.7 117.5h0M605.6 118.2h0M606.0 120.6h0M606.1 121.9h0M605.6 123.2h0M605.7 125.3h0M605.7 125.7h0M606.1 131.8h0M606.1 135.7h0M606.4 137.2h0M605.7 140.1h0M606.3 143.2h0M606.0 151.4h0M605.9 156.8h0M605.9 167.2h0M606.2 166.7h0M607.5 54.7h0M607.2 56.7h0M607.1 57.7h0M607.1 61.6h0M606.6 67.4h0M606.8 69.2h0M606.7 71.8h0M607.2 71.6h0M606.5 73.1h0M606.8 75.6h0M607.2 75.7h0M607.2 76.8h0M606.8 77.8h0M607.5 83.5h0M606.6 86.5h0M606.8 87.3h0M606.9 87.5h0M607.3 88.1h0M606.5 101.8h0M607.4 102.8h0M606.6 104.8h0M606.8 108.1h0M606.9 110.9h0M607.5 113.4h0M607.1 115.4h0M607.1 115.5h0M606.9 118.0h0M607.4 120.3h0M606.9 121.1h0M606.9 124.8h0M606.7 125.1h0M607.3 140.5h0M606.5 142.8h0M606.9 143.8h0M607.1 168.2h0M608.1 58.0h0M608.1 60.9h0M608.5 60.5h0M608.4 67.3h0M608.1 69.9h0M607.5 78.2h0M608.2 79.5h0M607.9 79.8h0M607.5 82.0h0M607.6 86.0h0M607.8 88.6h0M608.4 92.4h0M608.5 92.9h0M608.1 95.6h0M607.8 96.4h0M607.6 96.6h0M608.2 98.2h0M608.2 101.1h0M607.9 103.9h0M607.9 107.0h0M607.7 107.2h0M607.9 111.5h0M608.4 117.3h0M607.5 118.9h0M608.2 120.2h0M607.7 119.8h0M608.1 121.2h0M607.8 121.6h0M607.7 125.2h0M608.3 128.7h0M607.6 137.0h0M608.3 149.1h0M608.2 161.2h0M608.3 174.1h0M607.6 188.6h0M609.4 52.4h0M609.1 53.2h0M608.6 56.1h0M609.5 58.3h0M609.0 62.8h0M608.7 67.4h0M609.3 68.1h0M608.8 69.2h0M609.1 70.5h0M608.5 70.8h0M609.3 72.3h0M609.4 77.9h0M609.0 79.3h0M608.8 80.2h0M609.5 82.0h0M609.3 81.8h0M609.1 85.9h0M608.8 88.0h0M608.5 87.6h0M608.7 88.6h0M608.6 90.4h0M608.9 91.3h0M609.4 92.9h0M609.3 95.5h0M608.6 98.5h0M609.3 102.3h0M608.6 102.9h0M609.1 109.9h0M609.0 110.0h0M609.4 111.5h0M609.5 115.0h0M609.4 114.6h0M609.3 115.0h0M609.0 117.5h0M609.0 117.7h0M609.4 123.0h0M608.5 128.4h0M609.0 130.6h0M609.3 130.6h0M608.9 133.5h0M608.7 140.6h0M609.0 142.2h0M608.6 152.8h0M608.9 161.6h0M608.8 190.8h0M610.2 58.6h0M610.3 58.9h0M610.2 65.0h0M609.9 65.5h0M610.4 67.4h0M610.5 67.5h0M609.7 72.1h0M610.3 72.4h0M610.3 74.8h0M610.2 74.8h0M610.0 77.5h0M609.8 78.0h0M609.8 78.7h0M610.0 80.4h0M609.7 80.9h0M610.2 82.4h0M609.7 82.9h0M609.6 85.8h0M610.0 88.0h0M609.8 88.2h0M609.9 88.5h0M610.3 89.3h0M609.9 90.9h0M610.2 94.4h0M609.8 96.4h0M610.2 97.7h0M609.6 99.4h0M609.9 102.1h0M609.8 105.1h0M610.4 109.3h0M609.9 115.2h0M609.8 116.4h0M610.1 118.1h0M610.0 124.3h0M610.3 125.4h0M610.5 126.3h0M610.3 125.6h0M610.4 137.1h0M609.5 146.6h0M610.0 158.5h0M609.7 163.7h0M610.4 168.7h0M610.9 57.1h0M610.5 57.3h0M611.0 57.8h0M611.1 61.1h0M610.9 65.2h0M611.2 68.9h0M610.6 70.5h0M610.5 71.5h0M611.1 71.6h0M610.7 73.5h0M610.6 73.7h0M611.5 76.4h0M610.5 78.6h0M611.3 79.1h0M610.9 81.8h0M610.7 83.4h0M611.5 83.0h0M610.9 84.3h0M611.3 86.8h0M611.2 89.7h0M611.3 98.9h0M610.6 102.4h0M611.2 102.8h0M610.6 103.9h0M610.9 106.5h0M610.6 107.1h0M610.6 108.4h0M610.7 110.5h0M611.0 110.8h0M610.6 112.3h0M611.4 112.5h0M610.7 117.9h0M611.4 118.7h0M610.9 119.1h0M611.4 119.2h0M611.1 119.8h0M610.9 121.0h0M611.3 122.2h0M611.1 125.7h0M611.4 127.6h0M611.0 128.4h0M611.1 130.2h0M611.0 138.9h0M611.2 144.5h0M610.7 156.8h0M610.6 162.4h0M611.0 171.9h0M611.2 190.1h0M610.6 200.4h0M612.2 57.4h0M611.8 61.4h0M612.0 65.1h0M611.7 65.6h0M612.0 69.1h0M611.6 69.5h0M612.1 75.3h0M612.4 78.4h0M612.4 79.3h0M611.8 80.3h0M612.0 79.8h0M612.4 81.2h0M611.8 88.0h0M611.9 91.4h0M612.5 93.2h0M612.2 94.2h0M612.3 97.4h0M612.4 98.3h0M612.0 98.1h0M612.1 99.5h0M612.3 98.8h0M611.8 101.9h0M612.1 104.4h0M612.4 104.2h0M611.7 104.2h0M611.8 106.9h0M612.1 109.1h0M612.2 109.5h0M612.4 124.4h0M612.0 125.3h0M612.0 125.8h0M611.7 128.8h0M612.4 130.9h0M611.9 137.4h0M612.4 144.5h0M611.8 149.3h0M612.3 205.5h0M613.0 58.3h0M612.8 63.8h0M612.6 71.5h0M613.5 75.3h0M613.4 77.3h0M613.1 78.3h0M613.3 78.7h0M612.7 79.4h0M613.3 80.0h0M612.7 79.9h0M612.7 81.7h0M612.6 82.0h0M612.5 85.5h0M613.3 86.2h0M612.5 85.7h0M612.9 86.8h0M613.5 88.7h0M612.6 96.7h0M612.9 96.6h0M613.0 103.7h0M612.7 103.5h0M613.4 103.8h0M613.2 103.7h0M612.8 105.0h0M613.4 115.2h0M613.2 117.3h0M613.1 118.4h0M612.8 118.7h0M612.6 120.3h0M613.0 122.2h0M613.4 123.9h0M612.8 124.1h0M612.7 123.5h0M613.1 129.2h0M613.0 130.1h0M613.1 130.6h0M613.0 135.6h0M612.5 138.7h0M613.3 139.7h0M612.5 140.5h0M613.1 145.7h0M612.9 197.7h0M614.4 54.4h0M614.3 56.3h0M614.5 56.5h0M614.1 57.4h0M613.9 59.2h0M614.1 62.3h0M614.3 66.6h0M614.5 68.6h0M614.3 69.5h0M614.5 70.0h0M613.6 70.4h0M614.3 73.3h0M614.2 74.8h0M614.4 75.5h0M613.5 77.7h0M614.0 79.4h0M614.1 82.8h0M613.5 91.6h0M614.2 92.3h0M613.6 93.3h0M614.5 98.7h0M614.0 99.8h0M614.2 100.0h0M613.8 100.1h0M614.3 101.0h0M613.7 103.3h0M613.7 105.5h0M614.1 106.5h0M614.1 108.1h0M614.3 108.7h0M613.7 110.3h0M613.6 112.7h0M613.6 113.9h0M614.5 114.7h0M614.3 114.8h0M614.3 114.7h0M614.3 116.3h0M614.1 117.1h0M613.9 117.5h0M613.7 120.5h0M613.7 119.6h0M614.0 121.8h0M614.2 122.4h0M613.6 132.2h0M613.9 134.9h0M613.7 135.3h0M614.2 135.6h0M614.4 141.8h0M614.3 167.7h0M614.2 179.1h0M614.8 58.5h0M614.7 62.3h0M614.7 64.0h0M615.2 63.5h0M615.1 64.8h0M615.5 65.5h0M614.9 68.5h0M615.4 69.8h0M614.9 70.4h0M615.3 72.4h0M614.7 72.2h0M614.7 77.6h0M615.2 79.6h0M614.7 83.3h0M615.1 85.1h0M614.8 86.0h0M614.8 86.5h0M615.0 85.7h0M614.7 91.2h0M614.5 91.5h0M615.0 94.8h0M615.2 98.6h0M614.5 99.8h0M615.4 99.6h0M614.7 100.5h0M615.2 105.4h0M615.4 107.5h0M615.2 109.7h0M614.9 114.2h0M614.8 117.0h0M615.4 119.1h0M614.8 119.8h0M614.7 124.6h0M614.7 126.6h0M615.4 128.9h0M615.2 131.9h0M615.3 133.5h0M615.4 137.4h0M615.1 138.5h0M614.6 140.2h0M615.2 149.4h0M615.1 154.2h0M614.8 155.9h0M616.1 60.6h0M616.4 62.4h0M615.9 66.6h0M616.1 73.0h0M616.1 73.6h0M616.3 76.6h0M615.6 80.1h0M615.5 83.6h0M616.5 86.0h0M616.5 92.4h0M615.8 94.1h0M616.0 95.4h0M616.1 97.5h0M616.3 97.8h0M616.2 98.0h0M616.2 102.4h0M616.1 101.8h0M615.7 104.1h0M616.1 106.1h0M615.8 111.1h0M616.2 112.2h0M615.9 112.8h0M616.4 113.2h0M615.8 115.0h0M616.2 114.6h0M615.5 117.7h0M616.1 125.1h0M615.9 127.0h0M616.2 147.0h0M615.7 155.6h0M616.3 156.0h0M616.1 160.6h0M616.0 181.0h0M617.4 56.7h0M617.5 60.9h0M617.2 63.6h0M617.1 71.7h0M616.8 73.1h0M617.5 74.7h0M616.8 76.4h0M616.8 78.4h0M617.4 79.5h0M617.0 80.9h0M617.3 83.3h0M617.0 85.4h0M616.6 88.4h0M617.1 88.4h0M617.0 94.1h0M616.6 97.9h0M617.1 98.5h0M616.6 101.8h0M617.1 109.8h0M616.9 109.9h0M616.6 113.0h0M617.4 113.7h0M616.8 117.5h0M616.6 117.5h0M617.2 131.0h0M616.7 132.0h0M616.9 132.6h0M617.0 134.0h0M617.2 142.8h0M616.9 150.4h0M616.6 164.8h0M616.5 171.9h0M616.8 179.8h0M617.9 57.6h0M618.3 61.4h0M617.8 61.7h0M617.8 63.7h0M618.4 65.9h0M617.7 65.6h0M617.9 68.7h0M617.9 88.4h0M618.2 89.5h0M618.4 90.5h0M618.3 90.6h0M617.7 92.5h0M617.5 92.6h0M617.6 92.8h0M618.3 94.0h0M618.3 96.5h0M618.0 96.3h0M618.0 95.6h0M617.5 99.3h0M617.6 99.7h0M617.9 100.9h0M618.3 102.8h0M617.8 108.5h0M618.2 111.5h0M618.4 114.0h0M617.8 119.2h0M617.9 122.1h0M617.6 124.3h0M618.2 124.9h0M618.0 126.8h0M617.7 128.3h0M618.2 129.3h0M618.0 130.3h0M617.8 136.6h0M617.9 189.6h0M619.5 62.5h0M619.4 64.7h0M619.3 66.8h0M619.0 66.8h0M619.5 67.1h0M619.1 68.4h0M618.7 68.2h0M618.5 75.3h0M619.5 80.2h0M619.0 81.1h0M618.5 83.1h0M618.9 85.2h0M619.2 85.2h0M618.9 87.0h0M618.6 87.9h0M619.2 88.5h0M619.3 90.4h0M619.5 105.4h0M619.0 108.3h0M618.7 109.1h0M618.9 109.8h0M618.9 112.7h0M618.7 114.5h0M619.0 116.9h0M619.4 122.4h0M618.7 125.5h0M618.9 128.4h0M619.0 129.9h0M619.1 147.3h0M619.0 161.5h0M619.3 192.5h0M619.9 57.9h0M619.6 62.1h0M620.4 63.7h0M619.6 65.8h0M620.4 66.6h0M620.4 67.8h0M619.7 69.4h0M620.3 71.3h0M620.4 72.2h0M620.5 80.1h0M620.4 83.9h0M619.9 84.1h0M619.8 88.7h0M620.3 89.3h0M620.0 92.4h0M620.4 91.6h0M620.1 92.1h0M620.4 100.1h0M620.3 100.4h0M620.2 100.8h0M619.6 102.8h0M620.3 103.9h0M619.6 103.7h0M620.3 106.0h0M620.3 106.3h0M620.4 107.4h0M619.6 107.3h0M619.5 117.7h0M620.3 118.2h0M619.9 125.9h0M619.6 129.9h0M619.6 135.1h0M620.0 139.0h0M619.6 140.7h0M619.7 142.3h0M619.9 144.1h0M620.1 175.5h0M620.2 181.3h0M621.2 60.1h0M621.2 66.4h0M621.1 69.6h0M621.4 70.7h0M621.4 74.9h0M621.4 79.8h0M621.3 81.7h0M620.9 82.6h0M620.8 90.4h0M620.7 90.3h0M620.6 89.9h0M620.9 91.4h0M621.2 103.2h0M621.5 102.7h0M620.7 105.9h0M621.0 105.6h0M621.3 107.5h0M621.3 106.7h0M621.1 110.3h0M621.4 114.9h0M620.9 117.4h0M621.1 117.9h0M621.3 119.3h0M620.8 122.8h0M621.3 130.2h0M621.4 132.7h0M620.8 138.4h0M621.5 168.3h0M621.4 176.3h0M620.9 175.9h0M620.7 179.1h0M622.2 61.8h0M622.1 65.9h0M622.5 66.8h0M621.5 69.0h0M622.3 68.8h0M621.8 72.3h0M622.3 74.3h0M621.5 75.8h0M621.9 79.5h0M622.1 80.4h0M622.0 82.4h0M622.4 83.8h0M622.3 93.5h0M622.4 93.6h0M621.5 97.7h0M621.7 98.8h0M621.8 98.8h0M621.9 105.7h0M621.6 108.7h0M622.5 110.0h0M622.1 110.0h0M622.3 115.6h0M622.3 115.5h0M621.6 146.4h0M621.9 159.9h0M623.4 56.7h0M623.0 63.2h0M623.1 63.7h0M622.9 68.7h0M623.1 70.8h0M623.2 71.6h0M622.8 72.7h0M622.8 72.9h0M623.2 72.6h0M622.6 73.8h0M623.3 74.9h0M623.0 81.4h0M623.4 82.1h0M622.9 81.6h0M623.0 85.2h0M622.6 85.9h0M622.7 87.0h0M622.7 91.2h0M622.6 92.6h0M623.3 94.5h0M623.1 97.3h0M623.5 105.5h0M623.3 107.8h0M622.9 108.9h0M623.5 115.0h0M623.1 117.4h0M622.8 124.9h0M622.9 125.2h0M622.9 125.1h0M623.4 129.5h0M623.3 131.4h0M622.7 135.1h0M623.0 136.4h0M623.2 136.6h0M622.7 137.3h0M623.3 143.0h0M622.5 156.3h0M624.1 58.8h0M624.2 67.4h0M624.0 66.7h0M623.7 73.8h0M623.7 74.4h0M624.0 77.1h0M623.9 77.2h0M623.9 76.9h0M623.9 78.5h0M624.5 84.8h0M623.9 85.1h0M624.2 86.9h0M623.7 87.7h0M624.4 89.7h0M624.0 91.5h0M624.3 92.0h0M624.1 96.2h0M624.0 95.6h0M623.5 96.7h0M623.9 105.3h0M623.6 105.6h0M623.8 106.8h0M623.6 108.6h0M624.0 108.7h0M624.1 110.7h0M623.7 123.0h0M623.6 125.1h0M624.4 125.8h0M623.9 126.0h0M623.9 128.1h0M624.4 127.6h0M623.9 131.4h0M623.8 143.0h0M624.3 148.6h0M624.5 149.7h0M624.5 163.1h0M624.0 178.0h0M624.4 179.5h0M624.0 208.4h0M624.1 209.6h0M625.4 61.1h0M625.4 66.6h0M624.7 72.4h0M624.5 72.2h0M625.5 75.7h0M625.2 81.1h0M624.9 83.2h0M625.2 83.4h0M625.3 85.1h0M624.7 85.6h0M625.1 95.5h0M625.3 96.0h0M625.1 97.8h0M625.2 98.9h0M624.8 102.4h0M625.3 107.9h0M624.6 109.6h0M624.8 111.0h0M625.1 112.6h0M624.7 115.9h0M625.3 118.8h0M625.0 121.7h0M625.3 125.8h0M624.7 129.9h0M625.5 139.8h0M624.7 144.0h0M625.3 150.3h0M624.8 154.3h0M624.7 179.5h0M625.4 200.5h0M625.0 205.9h0M626.0 60.5h0M626.4 71.4h0M626.4 74.2h0M626.4 75.5h0M626.5 75.9h0M625.8 79.7h0M626.3 80.1h0M626.0 83.2h0M626.1 82.8h0M625.8 84.8h0M625.9 88.0h0M626.3 92.0h0M626.0 91.7h0M625.8 93.8h0M625.7 100.0h0M626.1 102.3h0M626.2 107.5h0M626.4 108.7h0M625.7 110.1h0M626.4 115.5h0M625.6 118.0h0M626.4 119.3h0M626.3 124.6h0M626.1 141.2h0M625.5 148.0h0M626.4 152.1h0M625.8 165.9h0M625.9 169.6h0M625.5 179.3h0M626.5 196.8h0M627.3 62.5h0M627.2 65.7h0M626.6 66.1h0M626.8 67.1h0M627.3 68.1h0M626.9 71.0h0M627.1 71.4h0M627.3 81.7h0M627.5 83.8h0M626.8 87.4h0M627.2 93.7h0M627.3 94.4h0M627.0 98.5h0M627.1 98.2h0M626.7 100.3h0M627.2 99.6h0M626.6 99.5h0M627.4 102.6h0M627.5 104.2h0M627.1 105.0h0M627.3 107.1h0M626.6 108.3h0M626.6 109.4h0M626.9 108.8h0M626.6 110.4h0M626.5 111.0h0M626.6 119.8h0M627.2 122.1h0M626.6 121.7h0M627.4 124.0h0M626.8 124.8h0M626.9 134.6h0M626.9 143.2h0M626.9 145.1h0M627.4 148.2h0M627.3 151.6h0M627.2 161.5h0M626.7 179.2h0M628.3 68.4h0M627.8 73.8h0M628.0 74.6h0M627.8 79.4h0M627.7 81.7h0M627.7 82.2h0M628.1 82.5h0M627.7 84.3h0M627.6 86.2h0M628.2 88.5h0M628.1 91.6h0M627.7 96.7h0M628.1 99.6h0M627.6 104.5h0M628.4 106.2h0M627.9 106.9h0M628.0 109.3h0M627.7 118.3h0M628.2 120.8h0M628.2 121.6h0M627.6 125.5h0M628.2 127.0h0M627.7 129.1h0M628.3 144.9h0M628.2 155.6h0M628.4 155.6h0M628.4 164.1h0M629.3 65.6h0M629.1 70.6h0M629.4 73.1h0M629.4 79.3h0M628.7 81.1h0M629.3 88.0h0M629.1 89.9h0M628.6 91.6h0M629.2 93.0h0M629.4 102.3h0M629.2 103.9h0M628.5 108.2h0M628.7 108.8h0M628.9 111.2h0M628.7 112.1h0M629.0 112.8h0M628.7 113.4h0M628.7 116.7h0M628.9 117.1h0M629.2 119.6h0M629.3 121.9h0M629.0 122.3h0M629.3 123.0h0M629.0 124.2h0M629.0 138.7h0M629.2 152.3h0M628.9 174.8h0M630.0 68.6h0M630.3 71.8h0M630.1 73.3h0M629.9 74.0h0M629.9 82.1h0M630.2 87.8h0M629.6 91.9h0M630.0 94.6h0M629.8 97.3h0M629.5 99.0h0M629.6 101.5h0M629.9 105.3h0M630.2 111.4h0M630.4 114.6h0M630.4 118.8h0M630.3 120.0h0M629.5 121.4h0M630.1 140.0h0M629.5 144.2h0M629.9 154.3h0M630.4 159.0h0M630.4 161.5h0M630.4 166.5h0M630.4 170.2h0M629.7 178.1h0M631.0 67.0h0M631.2 66.5h0M630.8 72.2h0M631.2 73.6h0M631.2 74.8h0M631.4 77.6h0M631.4 82.7h0M631.2 84.5h0M630.7 87.4h0M631.2 89.9h0M630.8 96.3h0M631.3 96.8h0M630.8 97.7h0M631.2 99.1h0M631.0 100.4h0M631.1 103.0h0M631.1 104.1h0M630.9 108.0h0M631.3 108.4h0M631.3 108.0h0M631.3 112.3h0M631.3 113.8h0M630.6 120.9h0M630.7 122.6h0M631.3 124.3h0M631.2 125.4h0M630.9 125.1h0M631.1 131.3h0M631.4 140.3h0M630.6 153.2h0M630.7 157.3h0M631.4 180.7h0M631.7 65.8h0M631.7 78.2h0M632.4 77.7h0M632.2 79.0h0M632.4 79.0h0M632.2 79.9h0M632.0 81.2h0M632.1 84.1h0M632.1 85.5h0M631.8 89.8h0M632.4 90.1h0M632.5 92.8h0M631.6 92.5h0M632.4 94.0h0M632.0 97.5h0M632.4 97.6h0M631.8 102.5h0M631.8 102.9h0M632.4 105.3h0M631.8 109.5h0M632.0 110.8h0M631.7 111.4h0M631.8 113.5h0M632.4 114.0h0M632.2 114.6h0M632.0 121.8h0M632.1 132.8h0M632.0 143.1h0M632.2 150.9h0M631.5 151.6h0M631.7 159.9h0M632.1 203.7h0M632.5 67.1h0M632.9 69.5h0M632.6 77.3h0M633.1 78.3h0M633.5 79.5h0M632.6 80.5h0M632.5 82.5h0M633.3 84.5h0M633.5 84.9h0M632.6 86.5h0M633.1 89.3h0M632.5 92.4h0M633.3 99.3h0M632.8 106.4h0M632.8 107.0h0M633.3 107.8h0M632.6 111.2h0M633.1 111.1h0M633.3 114.6h0M632.8 118.8h0M632.8 121.0h0M632.6 123.3h0M633.0 123.5h0M633.2 125.8h0M632.6 133.5h0M633.2 150.6h0M633.1 160.0h0M632.7 161.8h0M634.0 70.9h0M634.2 82.2h0M633.8 83.0h0M633.5 88.7h0M633.6 93.8h0M634.5 94.7h0M634.0 98.0h0M634.4 99.1h0M634.5 101.8h0M634.3 106.5h0M633.6 106.6h0M633.8 107.0h0M634.3 110.1h0M633.6 111.5h0M633.9 112.4h0M633.6 111.6h0M634.3 114.4h0M634.5 113.6h0M634.2 116.8h0M633.6 120.3h0M633.8 124.8h0M633.8 135.1h0M633.6 135.9h0M633.8 138.8h0M633.6 147.1h0M634.1 170.9h0M634.6 69.6h0M635.0 75.5h0M635.4 78.4h0M634.6 80.0h0M635.4 84.6h0M635.4 85.0h0M634.5 85.6h0M635.3 89.0h0M634.6 88.9h0M634.8 91.1h0M635.1 90.7h0M634.9 92.2h0M635.4 94.0h0M634.7 94.7h0M634.6 101.4h0M634.7 101.8h0M634.8 104.2h0M634.6 103.5h0M634.7 109.8h0M634.7 112.2h0M634.5 112.5h0M635.0 115.0h0M634.6 115.8h0M634.6 116.9h0M634.6 118.0h0M634.7 122.5h0M634.6 122.1h0M634.7 122.6h0M634.8 123.4h0M635.3 123.9h0M635.3 125.6h0M634.7 127.8h0M635.1 134.4h0M635.0 134.2h0M634.7 151.6h0M635.0 169.1h0M636.4 72.5h0M636.5 74.6h0M636.3 74.7h0M636.3 78.5h0M635.5 80.1h0M636.3 81.0h0M636.0 89.4h0M636.5 91.7h0M636.1 93.8h0M635.7 96.0h0M636.2 96.1h0M635.8 96.9h0M635.5 97.2h0M636.3 98.4h0M635.9 98.0h0M636.1 102.1h0M636.1 105.2h0M636.1 112.8h0M635.5 113.9h0M636.3 117.3h0M636.0 116.7h0M636.4 122.4h0M636.0 127.2h0M635.8 129.4h0M635.8 139.5h0M636.3 141.7h0M636.3 162.0h0M636.0 173.6h0M635.9 177.3h0M637.0 66.0h0M637.1 73.0h0M637.0 76.9h0M637.1 79.9h0M637.0 80.3h0M636.6 82.1h0M636.9 82.0h0M637.2 84.5h0M637.2 84.5h0M636.5 90.2h0M636.5 90.3h0M636.9 91.4h0M637.4 90.5h0M637.3 94.5h0M637.4 98.2h0M636.9 100.2h0M637.5 103.3h0M636.7 105.7h0M637.5 110.5h0M636.8 112.5h0M636.6 114.1h0M636.8 115.7h0M637.0 117.1h0M636.6 117.0h0M637.4 131.1h0M637.3 146.5h0M636.6 225.5h0M637.8 77.9h0M638.2 81.4h0M638.5 85.6h0M637.6 86.8h0M637.7 87.3h0M637.7 89.3h0M638.4 90.8h0M638.2 92.0h0M638.4 96.2h0M637.8 99.3h0M637.9 102.3h0M637.7 102.4h0M638.4 103.7h0M637.9 103.5h0M638.4 106.1h0M638.4 112.5h0M638.2 117.1h0M637.8 117.0h0M637.6 119.0h0M638.1 118.7h0M637.7 121.7h0M638.0 124.1h0M637.8 126.0h0M638.5 150.3h0M638.4 172.1h0M638.2 184.5h0M638.7 71.3h0M639.3 75.5h0M638.5 82.4h0M639.2 83.1h0M638.8 86.1h0M639.2 87.9h0M639.2 88.7h0M639.1 89.2h0M638.5 90.4h0M638.5 95.2h0M638.7 100.4h0M639.0 100.8h0M639.1 103.3h0M639.2 106.2h0M639.2 107.3h0M638.9 110.0h0M639.2 111.8h0M639.1 111.5h0M639.4 113.2h0M638.9 123.0h0M639.0 126.7h0M639.1 131.0h0M639.2 131.0h0M638.8 132.3h0M639.1 136.9h0M638.9 142.2h0M639.4 148.7h0M638.7 151.6h0M639.1 164.5h0M639.5 197.2h0M640.5 62.9h0M640.2 74.7h0M640.0 78.7h0M640.3 82.4h0M639.6 87.2h0M640.0 86.7h0M640.4 87.9h0M640.0 89.0h0M640.1 89.8h0M640.4 89.9h0M639.9 90.7h0M639.5 91.5h0M639.7 93.3h0M639.9 94.7h0M639.8 95.7h0M639.8 102.9h0M640.3 117.1h0M639.7 118.1h0M640.4 118.8h0M639.6 120.9h0M639.7 141.3h0M639.9 153.2h0M639.6 158.5h0M639.8 165.7h0M640.4 176.9h0M640.8 71.3h0M641.3 70.7h0M641.1 79.1h0M641.4 80.4h0M640.6 80.2h0M640.7 80.6h0M640.9 88.6h0M640.9 93.0h0M640.6 93.7h0M641.4 96.5h0M641.0 99.4h0M640.6 109.2h0M640.7 114.5h0M640.8 116.9h0M641.5 127.7h0M640.9 131.0h0M640.7 140.5h0M641.2 146.2h0M640.7 164.5h0M641.3 196.3h0M642.0 77.2h0M642.1 84.3h0M642.5 85.1h0M642.4 88.4h0M642.0 88.9h0M642.1 96.2h0M641.9 97.7h0M642.4 100.9h0M641.7 101.3h0M641.7 101.0h0M642.1 104.7h0M642.0 107.0h0M642.3 109.4h0M641.7 112.4h0M641.7 117.2h0M641.7 117.2h0M642.0 117.9h0M642.1 117.9h0M641.7 120.2h0M642.2 130.7h0M641.8 137.0h0M642.0 140.5h0M642.4 167.2h0M642.1 169.4h0M642.1 183.7h0M643.1 76.2h0M643.5 81.5h0M642.6 85.9h0M642.8 89.2h0M642.6 88.8h0M642.9 93.2h0M643.2 99.4h0M642.9 102.2h0M643.1 103.1h0M643.4 106.5h0M642.9 108.2h0M643.0 108.2h0M642.6 109.3h0M642.5 109.8h0M643.3 120.1h0M643.0 125.7h0M642.8 130.5h0M642.9 143.7h0M643.4 187.0h0M642.7 193.6h0M643.8 73.9h0M643.9 78.4h0M644.0 81.0h0M644.5 80.9h0M644.5 90.7h0M644.0 91.1h0M643.7 91.1h0M644.0 92.0h0M643.6 103.7h0M644.1 107.0h0M643.9 109.7h0M644.0 111.8h0M644.0 113.5h0M644.0 113.9h0M644.1 116.5h0M643.7 128.8h0M644.0 136.0h0M643.7 145.7h0M644.0 164.4h0M643.5 170.2h0M643.8 198.6h0M644.9 68.8h0M645.0 71.6h0M645.0 80.4h0M644.7 79.5h0M644.7 80.7h0M645.1 80.9h0M644.8 82.5h0M644.6 84.6h0M644.7 90.1h0M645.3 90.4h0M644.7 90.4h0M644.7 89.5h0M645.5 98.7h0M644.7 102.5h0M645.3 101.8h0M645.3 104.8h0M644.7 106.3h0M644.8 107.8h0M644.8 107.7h0M644.8 118.0h0M645.3 120.0h0M645.2 120.6h0M645.3 124.3h0M644.9 125.7h0M645.4 130.0h0M645.4 131.2h0M645.0 130.7h0M645.0 146.8h0M645.1 168.1h0M645.0 174.1h0M645.0 196.2h0M645.9 68.5h0M645.9 74.5h0M645.6 76.0h0M646.3 80.7h0M646.4 81.3h0M646.0 83.4h0M646.0 90.1h0M646.3 106.3h0M645.7 107.3h0M646.4 108.7h0M645.6 127.7h0M646.2 132.4h0M646.2 135.2h0M646.0 142.5h0M645.5 173.8h0M647.4 69.9h0M646.6 72.4h0M647.2 81.0h0M647.1 84.5h0M646.5 92.7h0M647.3 93.9h0M646.8 95.1h0M646.8 98.4h0M647.4 99.0h0M646.9 100.1h0M647.2 102.1h0M647.0 102.0h0M646.9 109.9h0M647.2 111.7h0M646.6 115.0h0M646.9 119.3h0M647.0 123.9h0M647.2 132.1h0M646.7 137.6h0M647.4 159.1h0M648.4 74.8h0M648.1 75.5h0M648.0 80.5h0M648.4 81.2h0M648.2 84.3h0M648.5 91.3h0M647.6 92.9h0M648.4 95.3h0M648.4 101.5h0M647.8 106.0h0M648.1 106.4h0M648.3 109.5h0M648.4 109.8h0M648.3 110.4h0M648.4 109.7h0M648.0 116.1h0M647.5 117.2h0M647.7 117.2h0M647.8 119.8h0M647.6 136.2h0M648.2 136.8h0M647.5 138.5h0M648.2 154.1h0M647.8 176.4h0M647.6 201.1h0M648.6 80.7h0M649.4 81.8h0M649.4 83.7h0M648.6 87.6h0M649.4 87.9h0M648.7 95.4h0M648.7 98.2h0M648.5 116.5h0M649.0 119.1h0M649.1 125.8h0M648.9 127.6h0M648.6 131.2h0M648.9 135.1h0M649.4 135.7h0M648.7 137.2h0M649.3 142.1h0M648.7 165.7h0M648.9 167.7h0M649.5 195.0h0M649.6 78.6h0M650.2 82.0h0M650.3 82.6h0M650.0 84.2h0M649.7 86.4h0M650.1 88.2h0M649.8 89.8h0M650.1 90.7h0M649.5 92.3h0M650.3 98.7h0M650.3 102.7h0M650.2 105.5h0M650.4 105.3h0M649.5 113.5h0M649.9 117.9h0M649.8 133.3h0M650.3 157.2h0M649.9 159.1h0M650.1 165.0h0M649.8 166.4h0M650.3 167.1h0M650.9 76.2h0M651.0 81.5h0M651.0 84.1h0M650.7 86.1h0M650.8 87.2h0M650.9 94.7h0M650.7 101.7h0M651.0 108.1h0M651.0 109.2h0M651.3 110.3h0M651.2 112.7h0M650.7 116.0h0M651.3 123.9h0M651.3 132.4h0M651.1 171.5h0M652.3 83.2h0M651.9 99.8h0M652.4 110.0h0M651.6 113.1h0M652.5 116.5h0M651.8 117.6h0M652.3 123.4h0M651.7 124.4h0M652.3 127.0h0M651.9 129.4h0M651.9 143.0h0M652.0 145.1h0M651.8 166.9h0M651.9 169.1h0M653.1 82.0h0M652.7 81.6h0M652.5 83.1h0M652.9 85.9h0M653.0 88.7h0M652.6 90.7h0M653.3 96.5h0M652.8 116.6h0M652.7 120.4h0M653.3 137.7h0M652.7 155.0h0M653.5 162.8h0M654.0 75.1h0M654.4 76.5h0M654.2 86.6h0M653.6 87.8h0M654.3 92.5h0M653.8 93.1h0M653.6 95.5h0M654.0 97.4h0M654.1 96.9h0M654.0 96.7h0M653.7 97.7h0M654.1 112.3h0M654.3 114.5h0M653.8 119.8h0M654.2 119.6h0M653.7 122.8h0M653.9 124.0h0M654.2 164.9h0M654.1 193.7h0M654.6 78.9h0M655.0 78.6h0M655.4 81.2h0M655.5 87.2h0M654.6 88.9h0M654.7 95.3h0M655.0 100.9h0M654.9 100.9h0M654.7 103.2h0M654.9 104.8h0M654.7 104.7h0M655.0 115.5h0M655.5 92.9h0M655.8 93.0h0M656.4 93.9h0M656.4 102.7h0M656.0 109.0h0M656.4 110.3h0M655.6 116.1h0M656.0 115.5h0M656.4 121.1h0M655.7 123.8h0M656.1 125.7h0M655.9 130.1h0M655.7 146.8h0M656.5 147.2h0M656.3 179.9h0M656.4 180.7h0M656.9 80.6h0M657.2 82.1h0M657.1 87.8h0M656.7 94.6h0M656.6 100.8h0M656.6 116.4h0M657.5 117.7h0M657.4 126.9h0M656.5 128.4h0M656.8 134.8h0M657.2 167.1h0M657.2 196.9h0M658.5 78.6h0M657.6 81.0h0M657.6 92.1h0M658.2 95.3h0M657.9 94.8h0M658.4 98.6h0M657.9 102.8h0M658.4 104.6h0M658.1 110.6h0M657.9 116.7h0M657.8 124.5h0M658.5 133.3h0M658.3 134.0h0M658.5 156.5h0M657.8 162.5h0M659.3 80.8h0M658.9 86.4h0M659.1 90.5h0M658.6 93.4h0M659.3 100.4h0M659.2 101.3h0M659.4 108.1h0M658.8 109.0h0M659.0 115.4h0M659.5 115.8h0M658.9 125.2h0M658.9 127.1h0M659.3 131.7h0M659.2 185.0h0M660.1 80.2h0M659.8 82.8h0M660.0 85.7h0M660.1 91.4h0M659.8 98.6h0M659.9 114.4h0M660.0 120.3h0M659.7 127.4h0M659.6 126.7h0M660.2 131.2h0M660.3 130.6h0M659.9 140.3h0M659.8 146.3h0M661.2 87.4h0M661.3 88.5h0M660.9 92.4h0M660.7 98.3h0M661.0 104.0h0M661.1 114.9h0M660.8 126.0h0M661.1 131.9h0M661.0 152.1h0M662.2 117.4h0M662.2 120.2h0M662.4 121.9h0M662.1 137.6h0M661.6 199.3h0M662.7 90.1h0M663.1 124.0h0M663.1 126.4h0M663.4 126.7h0M662.6 127.6h0M662.8 129.0h0M663.1 135.4h0M662.7 148.5h0M663.7 85.2h0M664.4 91.6h0M663.9 91.9h0M664.0 92.1h0M664.5 92.9h0M664.1 95.4h0M663.8 99.8h0M664.5 107.4h0M664.5 109.2h0M664.3 109.8h0M663.6 119.0h0M663.8 126.2h0M664.1 128.6h0M664.1 161.0h0M664.2 162.4h0M665.2 100.1h0M665.0 111.7h0M665.0 112.4h0M665.0 125.6h0M665.3 133.6h0M665.4 160.8h0M665.1 171.2h0M665.4 174.3h0M665.6 92.8h0M666.0 96.0h0M665.9 107.1h0M666.1 108.6h0M665.7 117.3h0M666.1 117.9h0M666.3 192.6h0M667.4 86.7h0M667.0 94.2h0M666.7 105.7h0M666.8 112.5h0M667.3 123.0h0M666.7 151.7h0M666.7 164.1h0M668.0 105.4h0M667.8 120.2h0M668.4 120.8h0M668.0 125.3h0M668.3 162.2h0M668.9 90.9h0M668.8 92.7h0M669.5 133.3h0M668.9 134.0h0M669.1 168.7h0M669.5 86.8h0M669.8 88.3h0M669.8 114.8h0M670.9 117.1h0M671.1 144.7h0M671.2 149.8h0M671.0 150.4h0M671.5 89.6h0M672.3 104.5h0M672.2 109.7h0M672.2 117.7h0M672.4 160.9h0M672.0 162.5h0M671.9 188.8h0M673.3 85.8h0M673.5 90.4h0M672.6 92.5h0M673.4 109.1h0M673.0 137.9h0M674.0 86.2h0M674.4 117.9h0M673.6 120.5h0M674.2 132.2h0M677.2 116.6h0M677.6 113.9h0M678.4 151.9h0M678.7 96.5h0M679.0 112.4h0M679.0 163.9h0M680.7 91.4h0M681.2 99.3h0M681.2 113.8h0M681.6 92.9h0M682.0 121.7h0M681.5 167.9h0M682.8 88.2h0M682.7 145.2h0M683.7 89.5h0M683.7 96.5h0M683.7 123.3h0M684.2 125.9h0M685.4 138.9h0M685.5 139.4h0M687.5 115.3h0M696.3 106.7h0M512.1 52.4h0M517.2 60.1h0M516.7 70.3h0M518.5 74.6h0M518.5 88.2h0M512.1 102.7h0M518.5 102.7h0M765.5 109.9h0M742.5 142.3h0M754.0 145.4h0M716.5 159.6h0M704.7 135.9h0M692.8 129.5h0M703.0 111.7h0M697.3 106.6h0M692.8 105.8h0M685.1 102.8h0M683.8 108.4h0M697.3 116.0h0M681.3 123.2h0M683.8 144.3h0M690.2 142.3h0M689.7 146.1h0M685.6 151.2h0M682.0 154.3h0M693.3 152.5h0M695.8 151.2h0M683.8 162.7h0M731.0 179.8h0M707.3 195.2h0M695.8 218.1h0M690.2 175.5h0M690.2 181.1h0M683.8 162.0h0M519.9 201.9h0M572.2 226.1h0M570.2 167.3h0M600.8 173.0h0M607.2 192.9h0M612.3 211.2h0M620.5 215.8h0M630.9 222.2h0M565.1 152.0h0M576.6 152.0h0M576.6 156.4h0M592.7 165.8h0M595.7 160.2h0" stroke="#0000f0" stroke-width="3.30" stroke-linecap="round" fill="none"/>
<path d="M498.9 46.3L717.8 103.3" stroke="#000" stroke-width="2.6"/>
<path d="M498.9 117.7H717.8" stroke="#d40000" stroke-width="2.4"/>
<path d="M713.5 60V95" stroke="#8a8a8a" stroke-width="1"/>
<path d="M710.6 92.1L713.9 99.1L717.2 92.1L713.9 94.1Z" fill="#111"/>
<text x="671.7" y="57.1" class="eq">y = -3.69x + 3.64</text>
<text x="469.4" y="15.2" class="pl">(b)</text>
<rect x="464.5" y="227.5" width="265.9" height="45" fill="#fff" stroke="#8a8a8a" stroke-width="1"/>
<circle cx="479.1" cy="235.7" r="2.6" fill="#0000f0"/>
<path d="M467.3 250H490.9" stroke="#000" stroke-width="2.6"/>
<path d="M467.3 264.9H490.9" stroke="#d40000" stroke-width="2.4"/>
<text x="494" y="240" class="lg">GPR data after the depth correction</text>
<text x="494" y="254.4" class="lg">90th percentile linear regression</text>
<text x="494" y="268.7" class="lg">Median - 3*MAD threshold line (y = -3.66 dB)</text>
</svg></body></html>
